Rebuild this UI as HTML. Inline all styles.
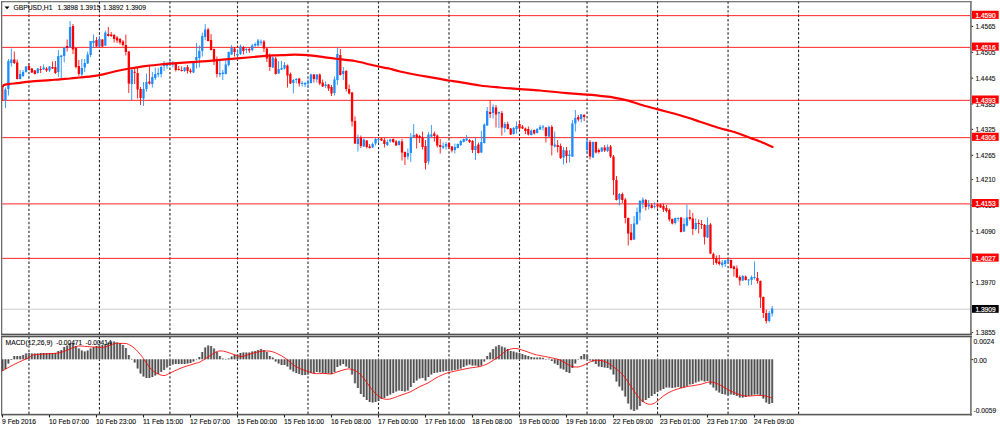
<!DOCTYPE html><html><head><meta charset="utf-8"><title>GBPUSD H1</title>
<style>html,body{margin:0;padding:0;background:#fff;}body{width:1000px;height:430px;overflow:hidden;}svg{display:block;}text{font-family:"Liberation Sans",sans-serif;}</style></head><body>
<svg width="1000" height="430" viewBox="0 0 1000 430">
<rect width="1000" height="430" fill="#fff"/>
<g stroke="#262626" stroke-width="1.1" stroke-dasharray="2.4 2.01" fill="none">
<path d="M28.94 1.36V414"/>
<path d="M99.44 1.36V414"/>
<path d="M169.94 1.36V414"/>
<path d="M237.50 1.36V414"/>
<path d="M308.00 1.36V414"/>
<path d="M378.50 1.36V414"/>
<path d="M449.00 1.36V414"/>
<path d="M519.50 1.36V414"/>
<path d="M587.06 1.36V414"/>
<path d="M657.56 1.36V414"/>
<path d="M728.06 1.36V414"/>
<path d="M798.56 1.36V414"/>
</g>
<rect x="2.2" y="15.05" width="968" height="1.1" fill="#ff0000" fill-opacity="0.78"/>
<rect x="2.2" y="46.85" width="968" height="1.1" fill="#ff0000" fill-opacity="0.78"/>
<rect x="2.2" y="99.80" width="968" height="1.1" fill="#ff0000" fill-opacity="0.78"/>
<rect x="2.2" y="137.05" width="968" height="1.1" fill="#ff0000" fill-opacity="0.78"/>
<rect x="2.2" y="203.10" width="968" height="1.5" fill="#ff0000" fill-opacity="0.58"/>
<rect x="2.2" y="257.85" width="968" height="1.1" fill="#ff0000" fill-opacity="0.78"/>
<rect x="2.2" y="308.7" width="968" height="1.1" fill="#d2d2d2"/>
<g>
<rect x="2.2" y="86.0" width="1.15" height="15.0" fill="#ff0000"/>
<rect x="5.02" y="87.5" width="0.84" height="20.5" fill="#1c8cff"/>
<rect x="4.29" y="89.5" width="2.3" height="10.5" fill="#1c8cff"/>
<rect x="7.96" y="59.0" width="0.84" height="36.5" fill="#1c8cff"/>
<rect x="7.22" y="61.0" width="2.3" height="28.0" fill="#1c8cff"/>
<rect x="10.89" y="48.5" width="0.84" height="18.0" fill="#1c8cff"/>
<rect x="10.16" y="59.5" width="2.3" height="3.5" fill="#1c8cff"/>
<rect x="13.83" y="51.5" width="0.84" height="12.5" fill="#ff0000"/>
<rect x="13.10" y="59.5" width="2.3" height="3.5" fill="#ff0000"/>
<rect x="16.77" y="59.5" width="0.84" height="20.0" fill="#ff0000"/>
<rect x="16.04" y="62.5" width="2.3" height="16.5" fill="#ff0000"/>
<rect x="19.70" y="70.0" width="0.84" height="9.5" fill="#1c8cff"/>
<rect x="18.98" y="74.0" width="2.3" height="5.0" fill="#1c8cff"/>
<rect x="22.64" y="70.0" width="0.84" height="7.0" fill="#1c8cff"/>
<rect x="21.91" y="72.0" width="2.3" height="4.0" fill="#1c8cff"/>
<rect x="25.58" y="66.0" width="0.84" height="6.5" fill="#1c8cff"/>
<rect x="24.85" y="66.5" width="2.3" height="5.5" fill="#1c8cff"/>
<rect x="28.52" y="63.5" width="0.84" height="7.0" fill="#ff0000"/>
<rect x="27.79" y="66.0" width="2.3" height="4.0" fill="#ff0000"/>
<rect x="31.45" y="68.0" width="0.84" height="5.0" fill="#ff0000"/>
<rect x="30.73" y="68.5" width="2.3" height="4.0" fill="#ff0000"/>
<rect x="34.39" y="70.0" width="0.84" height="4.5" fill="#ff0000"/>
<rect x="33.66" y="70.5" width="2.3" height="3.5" fill="#ff0000"/>
<rect x="37.33" y="68.0" width="0.84" height="5.5" fill="#1c8cff"/>
<rect x="36.60" y="68.5" width="2.3" height="4.5" fill="#1c8cff"/>
<rect x="40.27" y="66.0" width="0.84" height="7.0" fill="#ff0000"/>
<rect x="39.54" y="69.0" width="2.3" height="1.0" fill="#ff0000"/>
<rect x="43.20" y="64.5" width="0.84" height="5.5" fill="#1c8cff"/>
<rect x="42.48" y="67.5" width="2.3" height="2.0" fill="#1c8cff"/>
<rect x="46.14" y="67.0" width="0.84" height="5.0" fill="#ff0000"/>
<rect x="45.41" y="68.5" width="2.3" height="2.0" fill="#ff0000"/>
<rect x="49.08" y="66.0" width="0.84" height="6.0" fill="#1c8cff"/>
<rect x="48.35" y="66.5" width="2.3" height="4.0" fill="#1c8cff"/>
<rect x="52.02" y="61.5" width="0.84" height="7.5" fill="#ff0000"/>
<rect x="51.29" y="67.0" width="2.3" height="1.5" fill="#ff0000"/>
<rect x="54.95" y="61.0" width="0.84" height="13.0" fill="#ff0000"/>
<rect x="54.23" y="67.0" width="2.3" height="6.0" fill="#ff0000"/>
<rect x="57.89" y="50.0" width="0.84" height="27.0" fill="#1c8cff"/>
<rect x="57.16" y="56.0" width="2.3" height="16.0" fill="#1c8cff"/>
<rect x="60.83" y="55.0" width="0.84" height="23.0" fill="#1c8cff"/>
<rect x="60.10" y="55.5" width="2.3" height="1.5" fill="#1c8cff"/>
<rect x="63.77" y="47.5" width="0.84" height="15.0" fill="#1c8cff"/>
<rect x="63.04" y="47.5" width="2.3" height="8.5" fill="#1c8cff"/>
<rect x="66.70" y="39.5" width="0.84" height="12.0" fill="#ff0000"/>
<rect x="65.97" y="46.0" width="2.3" height="2.0" fill="#ff0000"/>
<rect x="69.64" y="21.0" width="0.84" height="27.0" fill="#1c8cff"/>
<rect x="68.91" y="27.0" width="2.3" height="20.5" fill="#1c8cff"/>
<rect x="72.58" y="24.0" width="0.84" height="30.0" fill="#ff0000"/>
<rect x="71.85" y="26.0" width="2.3" height="23.5" fill="#ff0000"/>
<rect x="75.52" y="48.0" width="0.84" height="20.5" fill="#ff0000"/>
<rect x="74.79" y="48.0" width="2.3" height="19.0" fill="#ff0000"/>
<rect x="78.45" y="60.0" width="0.84" height="16.0" fill="#ff0000"/>
<rect x="77.72" y="66.0" width="2.3" height="8.0" fill="#ff0000"/>
<rect x="81.39" y="59.0" width="0.84" height="17.5" fill="#1c8cff"/>
<rect x="80.66" y="68.0" width="2.3" height="6.5" fill="#1c8cff"/>
<rect x="84.33" y="59.0" width="0.84" height="13.0" fill="#1c8cff"/>
<rect x="83.60" y="63.0" width="2.3" height="4.5" fill="#1c8cff"/>
<rect x="87.27" y="51.5" width="0.84" height="12.5" fill="#1c8cff"/>
<rect x="86.54" y="54.5" width="2.3" height="9.0" fill="#1c8cff"/>
<rect x="90.20" y="41.0" width="0.84" height="16.0" fill="#1c8cff"/>
<rect x="89.47" y="41.0" width="2.3" height="14.0" fill="#1c8cff"/>
<rect x="93.14" y="34.5" width="0.84" height="13.5" fill="#1c8cff"/>
<rect x="92.41" y="41.0" width="2.3" height="2.0" fill="#1c8cff"/>
<rect x="96.08" y="37.0" width="0.84" height="10.0" fill="#ff0000"/>
<rect x="95.35" y="40.0" width="2.3" height="6.5" fill="#ff0000"/>
<rect x="99.02" y="36.0" width="0.84" height="11.0" fill="#1c8cff"/>
<rect x="98.29" y="39.0" width="2.3" height="7.5" fill="#1c8cff"/>
<rect x="101.95" y="39.0" width="0.84" height="8.0" fill="#ff0000"/>
<rect x="101.22" y="39.5" width="2.3" height="7.0" fill="#ff0000"/>
<rect x="104.89" y="30.5" width="0.84" height="15.5" fill="#1c8cff"/>
<rect x="104.16" y="32.5" width="2.3" height="13.0" fill="#1c8cff"/>
<rect x="107.83" y="27.0" width="0.84" height="9.5" fill="#ff0000"/>
<rect x="107.10" y="34.0" width="2.3" height="2.0" fill="#ff0000"/>
<rect x="110.77" y="32.0" width="0.84" height="5.0" fill="#ff0000"/>
<rect x="110.04" y="34.5" width="2.3" height="1.5" fill="#ff0000"/>
<rect x="113.70" y="34.0" width="0.84" height="8.5" fill="#ff0000"/>
<rect x="112.97" y="35.0" width="2.3" height="4.0" fill="#ff0000"/>
<rect x="116.64" y="36.0" width="0.84" height="7.0" fill="#ff0000"/>
<rect x="115.91" y="37.5" width="2.3" height="3.0" fill="#ff0000"/>
<rect x="119.58" y="38.0" width="0.84" height="6.5" fill="#ff0000"/>
<rect x="118.85" y="39.0" width="2.3" height="3.5" fill="#ff0000"/>
<rect x="122.52" y="40.0" width="0.84" height="6.5" fill="#ff0000"/>
<rect x="121.79" y="41.5" width="2.3" height="3.5" fill="#ff0000"/>
<rect x="125.45" y="34.5" width="0.84" height="21.0" fill="#ff0000"/>
<rect x="124.72" y="45.0" width="2.3" height="7.0" fill="#ff0000"/>
<rect x="128.39" y="51.0" width="0.84" height="42.0" fill="#ff0000"/>
<rect x="127.66" y="51.5" width="2.3" height="32.0" fill="#ff0000"/>
<rect x="131.33" y="69.0" width="0.84" height="31.0" fill="#1c8cff"/>
<rect x="130.60" y="70.0" width="2.3" height="14.0" fill="#1c8cff"/>
<rect x="134.27" y="68.0" width="0.84" height="16.0" fill="#ff0000"/>
<rect x="133.54" y="71.8" width="2.3" height="1.0" fill="#ff0000"/>
<rect x="137.21" y="68.0" width="0.84" height="30.5" fill="#ff0000"/>
<rect x="136.47" y="73.0" width="2.3" height="16.5" fill="#ff0000"/>
<rect x="140.14" y="87.0" width="0.84" height="18.0" fill="#ff0000"/>
<rect x="139.41" y="89.0" width="2.3" height="9.0" fill="#ff0000"/>
<rect x="143.08" y="82.0" width="0.84" height="24.0" fill="#1c8cff"/>
<rect x="142.35" y="89.0" width="2.3" height="9.5" fill="#1c8cff"/>
<rect x="146.02" y="73.5" width="0.84" height="18.0" fill="#1c8cff"/>
<rect x="145.29" y="82.0" width="2.3" height="7.0" fill="#1c8cff"/>
<rect x="148.96" y="65.0" width="0.84" height="19.5" fill="#ff0000"/>
<rect x="148.22" y="81.5" width="2.3" height="2.0" fill="#ff0000"/>
<rect x="151.89" y="72.0" width="0.84" height="15.5" fill="#1c8cff"/>
<rect x="151.16" y="77.0" width="2.3" height="7.0" fill="#1c8cff"/>
<rect x="154.83" y="67.5" width="0.84" height="12.5" fill="#1c8cff"/>
<rect x="154.10" y="74.0" width="2.3" height="4.0" fill="#1c8cff"/>
<rect x="157.77" y="68.0" width="0.84" height="9.0" fill="#1c8cff"/>
<rect x="157.04" y="73.0" width="2.3" height="1.5" fill="#1c8cff"/>
<rect x="160.71" y="66.0" width="0.84" height="11.5" fill="#1c8cff"/>
<rect x="159.97" y="67.0" width="2.3" height="7.0" fill="#1c8cff"/>
<rect x="163.64" y="61.0" width="0.84" height="10.0" fill="#1c8cff"/>
<rect x="162.91" y="65.0" width="2.3" height="1.0" fill="#1c8cff"/>
<rect x="166.58" y="62.5" width="0.84" height="6.5" fill="#1c8cff"/>
<rect x="165.85" y="64.5" width="2.3" height="1.5" fill="#1c8cff"/>
<rect x="169.52" y="59.0" width="0.84" height="7.0" fill="#1c8cff"/>
<rect x="168.79" y="62.0" width="2.3" height="2.5" fill="#1c8cff"/>
<rect x="172.46" y="61.0" width="0.84" height="6.5" fill="#1c8cff"/>
<rect x="171.72" y="63.5" width="2.3" height="1.0" fill="#1c8cff"/>
<rect x="175.39" y="63.5" width="0.84" height="8.0" fill="#ff0000"/>
<rect x="174.66" y="64.0" width="2.3" height="6.0" fill="#ff0000"/>
<rect x="178.33" y="66.0" width="0.84" height="4.5" fill="#ff0000"/>
<rect x="177.60" y="69.0" width="2.3" height="1.0" fill="#ff0000"/>
<rect x="181.27" y="66.5" width="0.84" height="5.0" fill="#ff0000"/>
<rect x="180.54" y="70.0" width="2.3" height="1.0" fill="#ff0000"/>
<rect x="184.21" y="67.0" width="0.84" height="5.0" fill="#1c8cff"/>
<rect x="183.47" y="67.5" width="2.3" height="3.5" fill="#1c8cff"/>
<rect x="187.14" y="65.0" width="0.84" height="8.5" fill="#ff0000"/>
<rect x="186.41" y="67.0" width="2.3" height="4.0" fill="#ff0000"/>
<rect x="190.08" y="68.5" width="0.84" height="5.0" fill="#ff0000"/>
<rect x="189.35" y="70.5" width="2.3" height="1.5" fill="#ff0000"/>
<rect x="193.02" y="61.5" width="0.84" height="11.5" fill="#1c8cff"/>
<rect x="192.29" y="62.0" width="2.3" height="10.5" fill="#1c8cff"/>
<rect x="195.96" y="43.0" width="0.84" height="25.5" fill="#1c8cff"/>
<rect x="195.22" y="57.0" width="2.3" height="3.0" fill="#1c8cff"/>
<rect x="198.89" y="45.5" width="0.84" height="22.0" fill="#1c8cff"/>
<rect x="198.16" y="51.0" width="2.3" height="7.0" fill="#1c8cff"/>
<rect x="201.83" y="32.5" width="0.84" height="24.0" fill="#1c8cff"/>
<rect x="201.10" y="36.0" width="2.3" height="15.0" fill="#1c8cff"/>
<rect x="204.77" y="24.0" width="0.84" height="16.0" fill="#1c8cff"/>
<rect x="204.04" y="29.5" width="2.3" height="7.5" fill="#1c8cff"/>
<rect x="207.71" y="28.0" width="0.84" height="13.5" fill="#ff0000"/>
<rect x="206.97" y="29.5" width="2.3" height="11.5" fill="#ff0000"/>
<rect x="210.64" y="34.0" width="0.84" height="16.5" fill="#ff0000"/>
<rect x="209.91" y="40.0" width="2.3" height="10.0" fill="#ff0000"/>
<rect x="213.58" y="48.5" width="0.84" height="16.5" fill="#ff0000"/>
<rect x="212.85" y="49.0" width="2.3" height="12.5" fill="#ff0000"/>
<rect x="216.52" y="56.5" width="0.84" height="21.0" fill="#ff0000"/>
<rect x="215.79" y="61.0" width="2.3" height="13.0" fill="#ff0000"/>
<rect x="219.46" y="61.0" width="0.84" height="16.0" fill="#1c8cff"/>
<rect x="218.72" y="73.0" width="2.3" height="1.5" fill="#1c8cff"/>
<rect x="222.39" y="70.0" width="0.84" height="10.0" fill="#1c8cff"/>
<rect x="221.66" y="72.5" width="2.3" height="1.5" fill="#1c8cff"/>
<rect x="225.33" y="60.5" width="0.84" height="14.0" fill="#1c8cff"/>
<rect x="224.60" y="64.5" width="2.3" height="9.5" fill="#1c8cff"/>
<rect x="228.27" y="51.5" width="0.84" height="15.0" fill="#1c8cff"/>
<rect x="227.54" y="52.0" width="2.3" height="13.0" fill="#1c8cff"/>
<rect x="231.21" y="45.0" width="0.84" height="10.0" fill="#1c8cff"/>
<rect x="230.47" y="48.0" width="2.3" height="6.5" fill="#1c8cff"/>
<rect x="234.14" y="47.0" width="0.84" height="9.5" fill="#ff0000"/>
<rect x="233.41" y="48.5" width="2.3" height="3.5" fill="#ff0000"/>
<rect x="237.08" y="49.5" width="0.84" height="10.5" fill="#1c8cff"/>
<rect x="236.35" y="54.0" width="2.3" height="1.5" fill="#1c8cff"/>
<rect x="240.02" y="44.5" width="0.84" height="10.5" fill="#1c8cff"/>
<rect x="239.29" y="46.5" width="2.3" height="7.5" fill="#1c8cff"/>
<rect x="242.96" y="46.0" width="0.84" height="8.5" fill="#ff0000"/>
<rect x="242.22" y="47.0" width="2.3" height="4.0" fill="#ff0000"/>
<rect x="245.89" y="48.0" width="0.84" height="5.0" fill="#1c8cff"/>
<rect x="245.16" y="49.0" width="2.3" height="1.0" fill="#1c8cff"/>
<rect x="248.83" y="47.5" width="0.84" height="5.5" fill="#ff0000"/>
<rect x="248.10" y="49.0" width="2.3" height="1.5" fill="#ff0000"/>
<rect x="251.77" y="44.0" width="0.84" height="7.5" fill="#1c8cff"/>
<rect x="251.04" y="45.5" width="2.3" height="4.5" fill="#1c8cff"/>
<rect x="254.71" y="42.5" width="0.84" height="4.5" fill="#1c8cff"/>
<rect x="253.97" y="44.0" width="2.3" height="1.5" fill="#1c8cff"/>
<rect x="257.64" y="39.0" width="0.84" height="7.5" fill="#1c8cff"/>
<rect x="256.91" y="40.5" width="2.3" height="5.0" fill="#1c8cff"/>
<rect x="260.58" y="39.5" width="0.84" height="6.0" fill="#1c8cff"/>
<rect x="259.85" y="41.6" width="2.3" height="1.2" fill="#1c8cff"/>
<rect x="263.52" y="40.0" width="0.84" height="12.0" fill="#ff0000"/>
<rect x="262.79" y="41.5" width="2.3" height="7.0" fill="#ff0000"/>
<rect x="266.45" y="48.0" width="0.84" height="14.0" fill="#ff0000"/>
<rect x="265.73" y="48.5" width="2.3" height="10.0" fill="#ff0000"/>
<rect x="269.39" y="53.5" width="0.84" height="17.5" fill="#ff0000"/>
<rect x="268.66" y="55.0" width="2.3" height="12.0" fill="#ff0000"/>
<rect x="272.33" y="56.5" width="0.84" height="11.5" fill="#1c8cff"/>
<rect x="271.60" y="57.5" width="2.3" height="10.0" fill="#1c8cff"/>
<rect x="275.27" y="57.0" width="0.84" height="17.5" fill="#ff0000"/>
<rect x="274.54" y="58.5" width="2.3" height="15.5" fill="#ff0000"/>
<rect x="278.20" y="61.0" width="0.84" height="13.0" fill="#1c8cff"/>
<rect x="277.48" y="69.0" width="2.3" height="4.5" fill="#1c8cff"/>
<rect x="281.14" y="61.0" width="0.84" height="9.0" fill="#1c8cff"/>
<rect x="280.41" y="68.0" width="2.3" height="1.5" fill="#1c8cff"/>
<rect x="284.08" y="62.0" width="0.84" height="7.5" fill="#1c8cff"/>
<rect x="283.35" y="65.0" width="2.3" height="3.5" fill="#1c8cff"/>
<rect x="287.02" y="64.5" width="0.84" height="23.0" fill="#ff0000"/>
<rect x="286.29" y="65.5" width="2.3" height="10.0" fill="#ff0000"/>
<rect x="289.95" y="72.5" width="0.84" height="11.5" fill="#ff0000"/>
<rect x="289.23" y="74.0" width="2.3" height="9.5" fill="#ff0000"/>
<rect x="292.89" y="79.0" width="0.84" height="14.5" fill="#1c8cff"/>
<rect x="292.16" y="80.0" width="2.3" height="3.0" fill="#1c8cff"/>
<rect x="295.83" y="78.0" width="0.84" height="5.5" fill="#1c8cff"/>
<rect x="295.10" y="79.0" width="2.3" height="1.0" fill="#1c8cff"/>
<rect x="298.77" y="78.0" width="0.84" height="8.5" fill="#ff0000"/>
<rect x="298.04" y="78.5" width="2.3" height="5.0" fill="#ff0000"/>
<rect x="301.70" y="81.0" width="0.84" height="5.5" fill="#1c8cff"/>
<rect x="300.98" y="83.0" width="2.3" height="1.0" fill="#1c8cff"/>
<rect x="304.64" y="82.0" width="0.84" height="5.0" fill="#1c8cff"/>
<rect x="303.91" y="83.0" width="2.3" height="1.5" fill="#1c8cff"/>
<rect x="307.58" y="79.5" width="0.84" height="8.5" fill="#1c8cff"/>
<rect x="306.85" y="81.5" width="2.3" height="2.0" fill="#1c8cff"/>
<rect x="310.52" y="73.5" width="0.84" height="10.0" fill="#1c8cff"/>
<rect x="309.79" y="74.5" width="2.3" height="8.5" fill="#1c8cff"/>
<rect x="313.45" y="74.0" width="0.84" height="8.5" fill="#ff0000"/>
<rect x="312.73" y="74.5" width="2.3" height="4.5" fill="#ff0000"/>
<rect x="316.39" y="74.0" width="0.84" height="8.5" fill="#1c8cff"/>
<rect x="315.66" y="74.5" width="2.3" height="5.0" fill="#1c8cff"/>
<rect x="319.33" y="73.5" width="0.84" height="11.5" fill="#ff0000"/>
<rect x="318.60" y="74.5" width="2.3" height="9.0" fill="#ff0000"/>
<rect x="322.27" y="79.5" width="0.84" height="7.5" fill="#ff0000"/>
<rect x="321.54" y="82.5" width="2.3" height="4.0" fill="#ff0000"/>
<rect x="325.20" y="81.5" width="0.84" height="6.5" fill="#1c8cff"/>
<rect x="324.48" y="84.5" width="2.3" height="1.5" fill="#1c8cff"/>
<rect x="328.14" y="84.0" width="0.84" height="7.0" fill="#ff0000"/>
<rect x="327.41" y="84.5" width="2.3" height="4.0" fill="#ff0000"/>
<rect x="331.08" y="85.0" width="0.84" height="11.0" fill="#ff0000"/>
<rect x="330.35" y="87.0" width="2.3" height="6.5" fill="#ff0000"/>
<rect x="334.02" y="76.5" width="0.84" height="19.0" fill="#1c8cff"/>
<rect x="333.29" y="79.5" width="2.3" height="13.5" fill="#1c8cff"/>
<rect x="336.95" y="47.5" width="0.84" height="37.5" fill="#1c8cff"/>
<rect x="336.23" y="54.0" width="2.3" height="26.0" fill="#1c8cff"/>
<rect x="339.89" y="49.0" width="0.84" height="26.5" fill="#ff0000"/>
<rect x="339.16" y="55.0" width="2.3" height="20.0" fill="#ff0000"/>
<rect x="342.83" y="67.0" width="0.84" height="13.0" fill="#1c8cff"/>
<rect x="342.10" y="71.0" width="2.3" height="3.0" fill="#1c8cff"/>
<rect x="345.77" y="70.0" width="0.84" height="21.5" fill="#ff0000"/>
<rect x="345.04" y="71.0" width="2.3" height="18.0" fill="#ff0000"/>
<rect x="348.70" y="84.5" width="0.84" height="10.0" fill="#ff0000"/>
<rect x="347.98" y="89.0" width="2.3" height="4.5" fill="#ff0000"/>
<rect x="351.64" y="92.0" width="0.84" height="34.5" fill="#ff0000"/>
<rect x="350.91" y="92.5" width="2.3" height="29.0" fill="#ff0000"/>
<rect x="354.58" y="116.5" width="0.84" height="27.5" fill="#ff0000"/>
<rect x="353.85" y="121.0" width="2.3" height="22.5" fill="#ff0000"/>
<rect x="357.52" y="134.5" width="0.84" height="17.0" fill="#1c8cff"/>
<rect x="356.79" y="138.5" width="2.3" height="5.5" fill="#1c8cff"/>
<rect x="360.45" y="135.5" width="0.84" height="12.5" fill="#ff0000"/>
<rect x="359.73" y="138.0" width="2.3" height="8.0" fill="#ff0000"/>
<rect x="363.39" y="138.5" width="0.84" height="8.5" fill="#1c8cff"/>
<rect x="362.66" y="139.5" width="2.3" height="7.0" fill="#1c8cff"/>
<rect x="366.33" y="140.0" width="0.84" height="8.5" fill="#ff0000"/>
<rect x="365.60" y="140.5" width="2.3" height="6.5" fill="#ff0000"/>
<rect x="369.27" y="144.0" width="0.84" height="4.5" fill="#ff0000"/>
<rect x="368.54" y="146.5" width="2.3" height="1.5" fill="#ff0000"/>
<rect x="372.20" y="142.5" width="0.84" height="5.5" fill="#1c8cff"/>
<rect x="371.48" y="144.0" width="2.3" height="3.5" fill="#1c8cff"/>
<rect x="375.14" y="138.0" width="0.84" height="7.5" fill="#1c8cff"/>
<rect x="374.41" y="139.0" width="2.3" height="4.5" fill="#1c8cff"/>
<rect x="378.08" y="138.5" width="0.84" height="4.5" fill="#1c8cff"/>
<rect x="377.35" y="139.0" width="2.3" height="1.0" fill="#1c8cff"/>
<rect x="381.02" y="138.0" width="0.84" height="3.0" fill="#ff0000"/>
<rect x="380.29" y="138.5" width="2.3" height="2.0" fill="#ff0000"/>
<rect x="383.95" y="138.0" width="0.84" height="9.5" fill="#ff0000"/>
<rect x="383.23" y="140.0" width="2.3" height="4.0" fill="#ff0000"/>
<rect x="386.89" y="139.5" width="0.84" height="6.5" fill="#1c8cff"/>
<rect x="386.16" y="142.0" width="2.3" height="3.0" fill="#1c8cff"/>
<rect x="389.83" y="139.0" width="0.84" height="3.5" fill="#1c8cff"/>
<rect x="389.10" y="139.5" width="2.3" height="2.0" fill="#1c8cff"/>
<rect x="392.77" y="138.5" width="0.84" height="4.5" fill="#ff0000"/>
<rect x="392.04" y="139.0" width="2.3" height="3.0" fill="#ff0000"/>
<rect x="395.70" y="140.0" width="0.84" height="6.0" fill="#ff0000"/>
<rect x="394.98" y="141.5" width="2.3" height="4.0" fill="#ff0000"/>
<rect x="398.64" y="140.5" width="0.84" height="5.0" fill="#1c8cff"/>
<rect x="397.91" y="141.0" width="2.3" height="4.0" fill="#1c8cff"/>
<rect x="401.58" y="139.0" width="0.84" height="21.5" fill="#ff0000"/>
<rect x="400.85" y="141.5" width="2.3" height="11.0" fill="#ff0000"/>
<rect x="404.52" y="151.5" width="0.84" height="13.5" fill="#ff0000"/>
<rect x="403.79" y="152.0" width="2.3" height="5.0" fill="#ff0000"/>
<rect x="407.45" y="148.5" width="0.84" height="11.0" fill="#1c8cff"/>
<rect x="406.73" y="153.0" width="2.3" height="3.5" fill="#1c8cff"/>
<rect x="410.39" y="133.0" width="0.84" height="29.0" fill="#1c8cff"/>
<rect x="409.66" y="137.0" width="2.3" height="16.0" fill="#1c8cff"/>
<rect x="413.33" y="124.0" width="0.84" height="13.5" fill="#1c8cff"/>
<rect x="412.60" y="135.0" width="2.3" height="2.0" fill="#1c8cff"/>
<rect x="416.27" y="133.5" width="0.84" height="15.0" fill="#ff0000"/>
<rect x="415.54" y="134.5" width="2.3" height="3.0" fill="#ff0000"/>
<rect x="419.20" y="135.0" width="0.84" height="8.0" fill="#ff0000"/>
<rect x="418.48" y="136.0" width="2.3" height="2.0" fill="#ff0000"/>
<rect x="422.14" y="131.5" width="0.84" height="18.0" fill="#ff0000"/>
<rect x="421.41" y="137.5" width="2.3" height="9.5" fill="#ff0000"/>
<rect x="425.08" y="140.0" width="0.84" height="29.5" fill="#ff0000"/>
<rect x="424.35" y="146.0" width="2.3" height="17.0" fill="#ff0000"/>
<rect x="428.02" y="132.0" width="0.84" height="32.5" fill="#1c8cff"/>
<rect x="427.29" y="134.5" width="2.3" height="27.0" fill="#1c8cff"/>
<rect x="430.95" y="125.0" width="0.84" height="12.5" fill="#1c8cff"/>
<rect x="430.23" y="134.5" width="2.3" height="2.0" fill="#1c8cff"/>
<rect x="433.89" y="131.5" width="0.84" height="10.0" fill="#ff0000"/>
<rect x="433.16" y="133.5" width="2.3" height="2.5" fill="#ff0000"/>
<rect x="436.83" y="134.5" width="0.84" height="13.0" fill="#ff0000"/>
<rect x="436.10" y="135.5" width="2.3" height="10.0" fill="#ff0000"/>
<rect x="439.77" y="139.0" width="0.84" height="14.5" fill="#ff0000"/>
<rect x="439.04" y="145.0" width="2.3" height="2.0" fill="#ff0000"/>
<rect x="442.70" y="142.5" width="0.84" height="6.5" fill="#1c8cff"/>
<rect x="441.98" y="146.0" width="2.3" height="1.5" fill="#1c8cff"/>
<rect x="445.64" y="142.0" width="0.84" height="7.5" fill="#1c8cff"/>
<rect x="444.91" y="144.0" width="2.3" height="2.5" fill="#1c8cff"/>
<rect x="448.58" y="142.5" width="0.84" height="6.5" fill="#ff0000"/>
<rect x="447.85" y="143.0" width="2.3" height="4.0" fill="#ff0000"/>
<rect x="451.52" y="146.0" width="0.84" height="6.5" fill="#ff0000"/>
<rect x="450.79" y="146.5" width="2.3" height="4.0" fill="#ff0000"/>
<rect x="454.45" y="143.5" width="0.84" height="10.0" fill="#1c8cff"/>
<rect x="453.73" y="147.0" width="2.3" height="3.0" fill="#1c8cff"/>
<rect x="457.39" y="143.5" width="0.84" height="5.0" fill="#1c8cff"/>
<rect x="456.66" y="144.0" width="2.3" height="4.0" fill="#1c8cff"/>
<rect x="460.33" y="140.0" width="0.84" height="6.0" fill="#1c8cff"/>
<rect x="459.60" y="141.0" width="2.3" height="4.0" fill="#1c8cff"/>
<rect x="463.27" y="138.5" width="0.84" height="4.0" fill="#1c8cff"/>
<rect x="462.54" y="139.0" width="2.3" height="3.0" fill="#1c8cff"/>
<rect x="466.20" y="135.0" width="0.84" height="6.0" fill="#1c8cff"/>
<rect x="465.48" y="138.5" width="2.3" height="2.0" fill="#1c8cff"/>
<rect x="469.14" y="139.0" width="0.84" height="4.0" fill="#ff0000"/>
<rect x="468.41" y="140.0" width="2.3" height="2.0" fill="#ff0000"/>
<rect x="472.08" y="140.0" width="0.84" height="13.0" fill="#ff0000"/>
<rect x="471.35" y="141.0" width="2.3" height="9.0" fill="#ff0000"/>
<rect x="475.02" y="138.0" width="0.84" height="22.0" fill="#1c8cff"/>
<rect x="474.29" y="146.0" width="2.3" height="4.0" fill="#1c8cff"/>
<rect x="477.95" y="142.5" width="0.84" height="11.0" fill="#ff0000"/>
<rect x="477.23" y="144.5" width="2.3" height="8.5" fill="#ff0000"/>
<rect x="480.89" y="131.0" width="0.84" height="22.0" fill="#1c8cff"/>
<rect x="480.16" y="142.0" width="2.3" height="10.5" fill="#1c8cff"/>
<rect x="483.83" y="123.5" width="0.84" height="20.0" fill="#1c8cff"/>
<rect x="483.10" y="124.5" width="2.3" height="18.5" fill="#1c8cff"/>
<rect x="486.77" y="107.0" width="0.84" height="19.0" fill="#1c8cff"/>
<rect x="486.04" y="111.0" width="2.3" height="14.5" fill="#1c8cff"/>
<rect x="489.70" y="100.5" width="0.84" height="17.5" fill="#ff0000"/>
<rect x="488.98" y="112.0" width="2.3" height="2.0" fill="#ff0000"/>
<rect x="492.64" y="104.5" width="0.84" height="14.0" fill="#1c8cff"/>
<rect x="491.91" y="107.0" width="2.3" height="6.0" fill="#1c8cff"/>
<rect x="495.58" y="105.0" width="0.84" height="22.5" fill="#ff0000"/>
<rect x="494.85" y="107.5" width="2.3" height="7.0" fill="#ff0000"/>
<rect x="498.52" y="111.5" width="0.84" height="16.5" fill="#1c8cff"/>
<rect x="497.79" y="112.0" width="2.3" height="1.5" fill="#1c8cff"/>
<rect x="501.45" y="111.0" width="0.84" height="24.5" fill="#ff0000"/>
<rect x="500.73" y="113.0" width="2.3" height="14.5" fill="#ff0000"/>
<rect x="504.39" y="122.0" width="0.84" height="10.5" fill="#1c8cff"/>
<rect x="503.66" y="124.0" width="2.3" height="4.0" fill="#1c8cff"/>
<rect x="507.33" y="121.5" width="0.84" height="8.0" fill="#ff0000"/>
<rect x="506.60" y="124.0" width="2.3" height="5.0" fill="#ff0000"/>
<rect x="510.27" y="128.0" width="0.84" height="7.0" fill="#ff0000"/>
<rect x="509.54" y="128.5" width="2.3" height="6.0" fill="#ff0000"/>
<rect x="513.21" y="127.0" width="0.84" height="7.5" fill="#1c8cff"/>
<rect x="512.48" y="128.0" width="2.3" height="6.0" fill="#1c8cff"/>
<rect x="516.14" y="121.5" width="0.84" height="12.0" fill="#1c8cff"/>
<rect x="515.41" y="126.0" width="2.3" height="3.0" fill="#1c8cff"/>
<rect x="519.08" y="120.5" width="0.84" height="9.0" fill="#ff0000"/>
<rect x="518.35" y="124.0" width="2.3" height="4.5" fill="#ff0000"/>
<rect x="522.02" y="125.0" width="0.84" height="4.0" fill="#ff0000"/>
<rect x="521.29" y="126.5" width="2.3" height="2.0" fill="#ff0000"/>
<rect x="524.96" y="127.5" width="0.84" height="6.5" fill="#ff0000"/>
<rect x="524.23" y="128.5" width="2.3" height="2.5" fill="#ff0000"/>
<rect x="527.89" y="126.5" width="0.84" height="9.0" fill="#ff0000"/>
<rect x="527.16" y="129.0" width="2.3" height="5.5" fill="#ff0000"/>
<rect x="530.83" y="129.5" width="0.84" height="6.0" fill="#1c8cff"/>
<rect x="530.10" y="130.5" width="2.3" height="4.5" fill="#1c8cff"/>
<rect x="533.77" y="129.5" width="0.84" height="5.0" fill="#ff0000"/>
<rect x="533.04" y="130.0" width="2.3" height="3.5" fill="#ff0000"/>
<rect x="536.71" y="128.0" width="0.84" height="5.5" fill="#1c8cff"/>
<rect x="535.98" y="129.0" width="2.3" height="4.0" fill="#1c8cff"/>
<rect x="539.64" y="125.0" width="0.84" height="5.0" fill="#1c8cff"/>
<rect x="538.91" y="127.0" width="2.3" height="2.5" fill="#1c8cff"/>
<rect x="542.58" y="125.0" width="0.84" height="5.5" fill="#1c8cff"/>
<rect x="541.85" y="126.5" width="2.3" height="1.0" fill="#1c8cff"/>
<rect x="545.52" y="127.0" width="0.84" height="15.5" fill="#ff0000"/>
<rect x="544.79" y="127.5" width="2.3" height="8.5" fill="#ff0000"/>
<rect x="548.46" y="125.5" width="0.84" height="11.5" fill="#1c8cff"/>
<rect x="547.73" y="127.0" width="2.3" height="9.5" fill="#1c8cff"/>
<rect x="551.39" y="125.0" width="0.84" height="30.5" fill="#ff0000"/>
<rect x="550.66" y="127.0" width="2.3" height="18.5" fill="#ff0000"/>
<rect x="554.33" y="131.5" width="0.84" height="16.0" fill="#1c8cff"/>
<rect x="553.60" y="144.5" width="2.3" height="2.0" fill="#1c8cff"/>
<rect x="557.27" y="140.0" width="0.84" height="12.5" fill="#ff0000"/>
<rect x="556.54" y="145.0" width="2.3" height="2.0" fill="#ff0000"/>
<rect x="560.21" y="143.5" width="0.84" height="15.5" fill="#ff0000"/>
<rect x="559.48" y="146.0" width="2.3" height="12.0" fill="#ff0000"/>
<rect x="563.14" y="147.0" width="0.84" height="17.5" fill="#1c8cff"/>
<rect x="562.41" y="150.0" width="2.3" height="7.5" fill="#1c8cff"/>
<rect x="566.08" y="147.0" width="0.84" height="16.0" fill="#ff0000"/>
<rect x="565.35" y="150.5" width="2.3" height="5.5" fill="#ff0000"/>
<rect x="569.02" y="150.0" width="0.84" height="12.5" fill="#1c8cff"/>
<rect x="568.29" y="154.5" width="2.3" height="1.5" fill="#1c8cff"/>
<rect x="571.96" y="120.0" width="0.84" height="37.0" fill="#1c8cff"/>
<rect x="571.23" y="123.5" width="2.3" height="33.0" fill="#1c8cff"/>
<rect x="574.89" y="110.0" width="0.84" height="21.5" fill="#1c8cff"/>
<rect x="574.16" y="118.0" width="2.3" height="5.5" fill="#1c8cff"/>
<rect x="577.83" y="115.0" width="0.84" height="6.5" fill="#ff0000"/>
<rect x="577.10" y="117.0" width="2.3" height="2.5" fill="#ff0000"/>
<rect x="580.77" y="114.0" width="0.84" height="8.5" fill="#1c8cff"/>
<rect x="580.04" y="114.5" width="2.3" height="4.5" fill="#1c8cff"/>
<rect x="583.71" y="114.0" width="0.84" height="7.0" fill="#ff0000"/>
<rect x="582.98" y="115.0" width="2.3" height="2.0" fill="#ff0000"/>
<rect x="586.64" y="138.5" width="0.84" height="15.0" fill="#1c8cff"/>
<rect x="585.91" y="141.5" width="2.3" height="8.5" fill="#1c8cff"/>
<rect x="589.58" y="140.0" width="0.84" height="19.5" fill="#ff0000"/>
<rect x="588.85" y="142.0" width="2.3" height="14.5" fill="#ff0000"/>
<rect x="592.52" y="141.5" width="0.84" height="16.5" fill="#1c8cff"/>
<rect x="591.79" y="142.0" width="2.3" height="15.5" fill="#1c8cff"/>
<rect x="595.46" y="141.5" width="0.84" height="12.0" fill="#ff0000"/>
<rect x="594.73" y="142.0" width="2.3" height="10.5" fill="#ff0000"/>
<rect x="598.39" y="148.5" width="0.84" height="5.0" fill="#ff0000"/>
<rect x="597.66" y="150.0" width="2.3" height="2.0" fill="#ff0000"/>
<rect x="601.33" y="147.0" width="0.84" height="5.0" fill="#1c8cff"/>
<rect x="600.60" y="147.5" width="2.3" height="4.0" fill="#1c8cff"/>
<rect x="604.27" y="145.0" width="0.84" height="7.0" fill="#ff0000"/>
<rect x="603.54" y="147.5" width="2.3" height="3.0" fill="#ff0000"/>
<rect x="607.21" y="144.5" width="0.84" height="7.5" fill="#1c8cff"/>
<rect x="606.48" y="147.0" width="2.3" height="4.0" fill="#1c8cff"/>
<rect x="610.14" y="145.0" width="0.84" height="13.0" fill="#ff0000"/>
<rect x="609.41" y="146.5" width="2.3" height="10.0" fill="#ff0000"/>
<rect x="613.08" y="155.0" width="0.84" height="40.0" fill="#ff0000"/>
<rect x="612.35" y="156.5" width="2.3" height="23.5" fill="#ff0000"/>
<rect x="616.02" y="176.0" width="0.84" height="24.5" fill="#ff0000"/>
<rect x="615.29" y="180.0" width="2.3" height="20.0" fill="#ff0000"/>
<rect x="618.96" y="193.0" width="0.84" height="12.5" fill="#1c8cff"/>
<rect x="618.23" y="194.0" width="2.3" height="5.5" fill="#1c8cff"/>
<rect x="621.89" y="192.5" width="0.84" height="10.5" fill="#ff0000"/>
<rect x="621.16" y="194.0" width="2.3" height="6.0" fill="#ff0000"/>
<rect x="624.83" y="198.0" width="0.84" height="25.5" fill="#ff0000"/>
<rect x="624.10" y="199.5" width="2.3" height="18.5" fill="#ff0000"/>
<rect x="627.77" y="217.5" width="0.84" height="28.0" fill="#ff0000"/>
<rect x="627.04" y="218.0" width="2.3" height="15.5" fill="#ff0000"/>
<rect x="630.71" y="224.0" width="0.84" height="16.5" fill="#ff0000"/>
<rect x="629.98" y="232.5" width="2.3" height="7.5" fill="#ff0000"/>
<rect x="633.64" y="216.0" width="0.84" height="24.0" fill="#1c8cff"/>
<rect x="632.91" y="223.5" width="2.3" height="16.0" fill="#1c8cff"/>
<rect x="636.58" y="207.5" width="0.84" height="17.5" fill="#1c8cff"/>
<rect x="635.85" y="212.0" width="2.3" height="12.0" fill="#1c8cff"/>
<rect x="639.52" y="200.0" width="0.84" height="20.5" fill="#1c8cff"/>
<rect x="638.79" y="201.0" width="2.3" height="11.5" fill="#1c8cff"/>
<rect x="642.46" y="197.5" width="0.84" height="11.0" fill="#1c8cff"/>
<rect x="641.73" y="199.5" width="2.3" height="3.5" fill="#1c8cff"/>
<rect x="645.39" y="199.0" width="0.84" height="11.5" fill="#ff0000"/>
<rect x="644.66" y="200.0" width="2.3" height="7.0" fill="#ff0000"/>
<rect x="648.33" y="200.0" width="0.84" height="9.5" fill="#1c8cff"/>
<rect x="647.60" y="204.5" width="2.3" height="2.0" fill="#1c8cff"/>
<rect x="651.27" y="203.5" width="0.84" height="5.0" fill="#ff0000"/>
<rect x="650.54" y="205.0" width="2.3" height="3.0" fill="#ff0000"/>
<rect x="654.21" y="202.5" width="0.84" height="6.0" fill="#1c8cff"/>
<rect x="653.48" y="206.0" width="2.3" height="1.0" fill="#1c8cff"/>
<rect x="657.14" y="203.5" width="0.84" height="5.5" fill="#ff0000"/>
<rect x="656.41" y="204.5" width="2.3" height="2.0" fill="#ff0000"/>
<rect x="660.08" y="203.5" width="0.84" height="4.5" fill="#ff0000"/>
<rect x="659.35" y="204.5" width="2.3" height="3.0" fill="#ff0000"/>
<rect x="663.02" y="203.5" width="0.84" height="8.5" fill="#ff0000"/>
<rect x="662.29" y="206.0" width="2.3" height="3.5" fill="#ff0000"/>
<rect x="665.96" y="205.0" width="0.84" height="7.5" fill="#ff0000"/>
<rect x="665.23" y="208.0" width="2.3" height="3.0" fill="#ff0000"/>
<rect x="668.89" y="208.5" width="0.84" height="13.0" fill="#ff0000"/>
<rect x="668.16" y="210.0" width="2.3" height="9.5" fill="#ff0000"/>
<rect x="671.83" y="218.5" width="0.84" height="6.0" fill="#ff0000"/>
<rect x="671.10" y="219.0" width="2.3" height="4.5" fill="#ff0000"/>
<rect x="674.77" y="217.5" width="0.84" height="7.0" fill="#1c8cff"/>
<rect x="674.04" y="218.0" width="2.3" height="5.0" fill="#1c8cff"/>
<rect x="677.71" y="217.5" width="0.84" height="4.0" fill="#1c8cff"/>
<rect x="676.98" y="218.0" width="2.3" height="1.0" fill="#1c8cff"/>
<rect x="680.64" y="217.0" width="0.84" height="15.5" fill="#ff0000"/>
<rect x="679.91" y="217.5" width="2.3" height="14.5" fill="#ff0000"/>
<rect x="683.58" y="218.0" width="0.84" height="14.0" fill="#1c8cff"/>
<rect x="682.85" y="224.0" width="2.3" height="7.5" fill="#1c8cff"/>
<rect x="686.52" y="204.5" width="0.84" height="22.0" fill="#1c8cff"/>
<rect x="685.79" y="217.5" width="2.3" height="8.0" fill="#1c8cff"/>
<rect x="689.46" y="209.5" width="0.84" height="11.0" fill="#ff0000"/>
<rect x="688.73" y="217.0" width="2.3" height="2.0" fill="#ff0000"/>
<rect x="692.39" y="213.0" width="0.84" height="22.0" fill="#ff0000"/>
<rect x="691.66" y="218.5" width="2.3" height="10.5" fill="#ff0000"/>
<rect x="695.33" y="218.5" width="0.84" height="12.0" fill="#1c8cff"/>
<rect x="694.60" y="223.0" width="2.3" height="6.0" fill="#1c8cff"/>
<rect x="698.27" y="219.5" width="0.84" height="14.0" fill="#ff0000"/>
<rect x="697.54" y="223.0" width="2.3" height="1.0" fill="#ff0000"/>
<rect x="701.21" y="220.0" width="0.84" height="9.0" fill="#ff0000"/>
<rect x="700.48" y="224.0" width="2.3" height="1.0" fill="#ff0000"/>
<rect x="704.14" y="224.0" width="0.84" height="20.5" fill="#ff0000"/>
<rect x="703.41" y="225.0" width="2.3" height="12.0" fill="#ff0000"/>
<rect x="707.08" y="217.5" width="0.84" height="20.5" fill="#1c8cff"/>
<rect x="706.35" y="225.0" width="2.3" height="12.5" fill="#1c8cff"/>
<rect x="710.02" y="223.0" width="0.84" height="31.0" fill="#ff0000"/>
<rect x="709.29" y="224.5" width="2.3" height="29.0" fill="#ff0000"/>
<rect x="712.96" y="252.5" width="0.84" height="12.5" fill="#ff0000"/>
<rect x="712.23" y="254.0" width="2.3" height="4.5" fill="#ff0000"/>
<rect x="715.89" y="255.5" width="0.84" height="9.0" fill="#ff0000"/>
<rect x="715.16" y="258.0" width="2.3" height="5.0" fill="#ff0000"/>
<rect x="718.83" y="255.0" width="0.84" height="10.5" fill="#ff0000"/>
<rect x="718.10" y="261.5" width="2.3" height="2.5" fill="#ff0000"/>
<rect x="721.77" y="260.0" width="0.84" height="7.5" fill="#1c8cff"/>
<rect x="721.04" y="262.5" width="2.3" height="2.5" fill="#1c8cff"/>
<rect x="724.71" y="260.0" width="0.84" height="7.0" fill="#1c8cff"/>
<rect x="723.98" y="260.5" width="2.3" height="3.5" fill="#1c8cff"/>
<rect x="727.64" y="259.0" width="0.84" height="4.0" fill="#1c8cff"/>
<rect x="726.91" y="259.5" width="2.3" height="2.0" fill="#1c8cff"/>
<rect x="730.58" y="259.5" width="0.84" height="9.0" fill="#ff0000"/>
<rect x="729.85" y="260.0" width="2.3" height="8.0" fill="#ff0000"/>
<rect x="733.52" y="265.5" width="0.84" height="11.0" fill="#ff0000"/>
<rect x="732.79" y="266.5" width="2.3" height="2.5" fill="#ff0000"/>
<rect x="736.46" y="265.5" width="0.84" height="12.5" fill="#ff0000"/>
<rect x="735.73" y="268.5" width="2.3" height="9.0" fill="#ff0000"/>
<rect x="739.39" y="275.5" width="0.84" height="10.0" fill="#ff0000"/>
<rect x="738.66" y="277.0" width="2.3" height="3.5" fill="#ff0000"/>
<rect x="742.33" y="275.0" width="0.84" height="6.0" fill="#1c8cff"/>
<rect x="741.60" y="276.0" width="2.3" height="4.5" fill="#1c8cff"/>
<rect x="745.27" y="275.5" width="0.84" height="5.0" fill="#ff0000"/>
<rect x="744.54" y="276.5" width="2.3" height="3.5" fill="#ff0000"/>
<rect x="748.21" y="279.0" width="0.84" height="6.5" fill="#1c8cff"/>
<rect x="747.48" y="279.5" width="2.3" height="1.0" fill="#1c8cff"/>
<rect x="751.14" y="275.5" width="0.84" height="9.5" fill="#1c8cff"/>
<rect x="750.41" y="277.0" width="2.3" height="3.0" fill="#1c8cff"/>
<rect x="754.08" y="261.5" width="0.84" height="18.0" fill="#1c8cff"/>
<rect x="753.35" y="277.0" width="2.3" height="1.0" fill="#1c8cff"/>
<rect x="757.02" y="272.0" width="0.84" height="11.5" fill="#ff0000"/>
<rect x="756.29" y="278.0" width="2.3" height="3.0" fill="#ff0000"/>
<rect x="759.96" y="280.5" width="0.84" height="27.5" fill="#ff0000"/>
<rect x="759.23" y="281.0" width="2.3" height="16.5" fill="#ff0000"/>
<rect x="762.89" y="296.5" width="0.84" height="21.5" fill="#ff0000"/>
<rect x="762.16" y="297.0" width="2.3" height="16.0" fill="#ff0000"/>
<rect x="765.83" y="309.5" width="0.84" height="14.0" fill="#ff0000"/>
<rect x="765.10" y="313.0" width="2.3" height="8.0" fill="#ff0000"/>
<rect x="768.77" y="311.0" width="0.84" height="11.5" fill="#1c8cff"/>
<rect x="768.04" y="313.0" width="2.3" height="8.0" fill="#1c8cff"/>
<rect x="771.71" y="306.0" width="0.84" height="10.5" fill="#1c8cff"/>
<rect x="770.98" y="308.5" width="2.3" height="5.0" fill="#1c8cff"/>
</g>
<path d="M3.0 86.2C3.2 86.0 3.0 85.3 4.2 84.9C5.4 84.5 7.4 84.2 10.0 83.9C12.6 83.6 16.7 83.2 20.0 82.8C23.3 82.4 25.0 82.0 30.0 81.6C35.0 81.1 45.0 80.5 50.0 80.1C55.0 79.7 56.7 79.6 60.0 79.3C63.3 79.0 66.7 78.8 70.0 78.5C73.3 78.2 75.8 77.9 80.0 77.5C84.2 77.1 90.8 76.5 95.0 75.9C99.2 75.3 101.2 74.8 105.0 73.9C108.8 73.1 113.9 71.7 118.0 70.8C122.1 69.9 125.8 69.2 129.5 68.5C133.2 67.8 137.4 67.3 140.0 66.9C142.6 66.5 141.7 66.6 145.0 66.2C148.3 65.8 155.8 64.9 160.0 64.5C164.2 64.1 164.2 64.0 170.0 63.6C175.8 63.2 187.7 62.4 195.0 61.9C202.3 61.4 206.9 61.0 214.0 60.4C221.1 59.8 229.3 59.1 237.5 58.4C245.7 57.7 256.6 56.6 263.0 56.1C269.4 55.6 272.3 55.5 276.0 55.3C279.7 55.1 281.8 55.2 285.0 55.1C288.2 55.0 291.2 54.7 295.0 54.7C298.8 54.7 303.0 54.7 308.0 55.1C313.0 55.5 320.0 56.8 325.0 57.4C330.0 58.0 333.0 58.4 338.0 59.0C343.0 59.6 349.7 60.1 355.0 61.0C360.3 61.9 366.1 63.6 370.0 64.5C373.9 65.4 376.0 66.0 378.5 66.5C381.0 67.0 383.1 67.4 385.0 67.8C386.9 68.2 387.5 68.2 390.0 68.8C392.5 69.4 395.0 70.4 400.0 71.5C405.0 72.6 413.3 74.3 420.0 75.5C426.7 76.7 435.2 78.1 440.0 78.9C444.8 79.7 445.7 80.0 449.0 80.5C452.3 81.0 454.8 81.3 460.0 82.1C465.2 82.9 473.3 84.6 480.0 85.5C486.7 86.4 493.3 86.9 500.0 87.5C506.7 88.1 513.3 88.6 520.0 89.1C526.7 89.6 533.3 89.9 540.0 90.5C546.7 91.1 553.3 91.9 560.0 92.5C566.7 93.1 574.7 93.8 580.0 94.2C585.3 94.6 588.7 94.5 592.0 94.8C595.3 95.1 596.3 95.4 600.0 95.9C603.7 96.4 609.3 96.8 614.0 97.6C618.7 98.4 623.7 99.4 628.0 100.6C632.3 101.8 635.0 103.0 640.0 104.5C645.0 106.0 651.3 107.6 658.0 109.4C664.7 111.2 673.0 113.2 680.0 115.3C687.0 117.3 693.3 119.5 700.0 121.7C706.7 123.9 715.3 126.9 720.0 128.3C724.7 129.7 724.7 129.4 728.0 130.3C731.3 131.2 736.0 132.6 740.0 134.0C744.0 135.4 749.3 137.6 752.0 138.6C754.7 139.6 754.7 139.4 756.0 139.9C757.3 140.4 758.3 140.9 760.0 141.6C761.7 142.3 763.9 143.1 766.0 144.0C768.1 144.9 771.5 146.4 772.6 146.9" fill="none" stroke="#ff0000" stroke-width="2.2" stroke-linejoin="round" stroke-linecap="round"/>
<g fill="#c6c6c6">
<rect x="1.03" y="359.3" width="2.938" height="11.2"/>
<rect x="3.97" y="359.3" width="2.938" height="9.7"/>
<rect x="6.91" y="359.3" width="2.938" height="4.2"/>
<rect x="9.84" y="359.3" width="2.938" height="0.7"/>
<rect x="12.78" y="356.0" width="2.938" height="3.3"/>
<rect x="15.72" y="356.0" width="2.938" height="3.3"/>
<rect x="18.66" y="356.0" width="2.938" height="3.3"/>
<rect x="21.59" y="355.0" width="2.938" height="4.3"/>
<rect x="24.53" y="353.5" width="2.938" height="5.8"/>
<rect x="27.47" y="353.0" width="2.938" height="6.3"/>
<rect x="30.41" y="353.5" width="2.938" height="5.8"/>
<rect x="33.34" y="353.5" width="2.938" height="5.8"/>
<rect x="36.28" y="353.5" width="2.938" height="5.8"/>
<rect x="39.22" y="353.0" width="2.938" height="6.3"/>
<rect x="42.16" y="353.0" width="2.938" height="6.3"/>
<rect x="45.09" y="353.0" width="2.938" height="6.3"/>
<rect x="48.03" y="353.0" width="2.938" height="6.3"/>
<rect x="50.97" y="353.0" width="2.938" height="6.3"/>
<rect x="53.91" y="353.0" width="2.938" height="6.3"/>
<rect x="56.84" y="351.0" width="2.938" height="8.3"/>
<rect x="59.78" y="350.0" width="2.938" height="9.3"/>
<rect x="62.72" y="347.0" width="2.938" height="12.3"/>
<rect x="65.66" y="345.5" width="2.938" height="13.8"/>
<rect x="68.59" y="343.0" width="2.938" height="16.3"/>
<rect x="71.53" y="343.0" width="2.938" height="16.3"/>
<rect x="74.47" y="346.0" width="2.938" height="13.3"/>
<rect x="77.41" y="348.5" width="2.938" height="10.8"/>
<rect x="80.34" y="350.5" width="2.938" height="8.8"/>
<rect x="83.28" y="351.5" width="2.938" height="7.8"/>
<rect x="86.22" y="350.5" width="2.938" height="8.8"/>
<rect x="89.16" y="348.5" width="2.938" height="10.8"/>
<rect x="92.09" y="347.0" width="2.938" height="12.3"/>
<rect x="95.03" y="346.0" width="2.938" height="13.3"/>
<rect x="97.97" y="345.5" width="2.938" height="13.8"/>
<rect x="100.91" y="345.0" width="2.938" height="14.3"/>
<rect x="103.84" y="344.0" width="2.938" height="15.3"/>
<rect x="106.78" y="342.5" width="2.938" height="16.8"/>
<rect x="109.72" y="341.5" width="2.938" height="17.8"/>
<rect x="112.66" y="341.5" width="2.938" height="17.8"/>
<rect x="115.59" y="342.5" width="2.938" height="16.8"/>
<rect x="118.53" y="343.0" width="2.938" height="16.3"/>
<rect x="121.47" y="345.0" width="2.938" height="14.3"/>
<rect x="124.41" y="348.0" width="2.938" height="11.3"/>
<rect x="127.34" y="355.0" width="2.938" height="4.3"/>
<rect x="133.22" y="359.3" width="2.938" height="3.2"/>
<rect x="136.16" y="359.3" width="2.938" height="9.2"/>
<rect x="139.09" y="359.3" width="2.938" height="14.2"/>
<rect x="142.03" y="359.3" width="2.938" height="17.2"/>
<rect x="144.97" y="359.3" width="2.938" height="18.7"/>
<rect x="147.91" y="359.3" width="2.938" height="18.7"/>
<rect x="150.84" y="359.3" width="2.938" height="17.7"/>
<rect x="153.78" y="359.3" width="2.938" height="16.2"/>
<rect x="156.72" y="359.3" width="2.938" height="14.7"/>
<rect x="159.66" y="359.3" width="2.938" height="12.7"/>
<rect x="162.59" y="359.3" width="2.938" height="10.7"/>
<rect x="165.53" y="359.3" width="2.938" height="8.2"/>
<rect x="168.47" y="359.3" width="2.938" height="6.7"/>
<rect x="171.41" y="359.3" width="2.938" height="5.2"/>
<rect x="174.34" y="359.3" width="2.938" height="4.7"/>
<rect x="177.28" y="359.3" width="2.938" height="4.7"/>
<rect x="180.22" y="359.3" width="2.938" height="4.7"/>
<rect x="183.16" y="359.3" width="2.938" height="4.7"/>
<rect x="186.09" y="359.3" width="2.938" height="4.2"/>
<rect x="189.03" y="359.3" width="2.938" height="3.7"/>
<rect x="191.97" y="359.3" width="2.938" height="2.2"/>
<rect x="197.84" y="357.0" width="2.938" height="2.3"/>
<rect x="200.78" y="352.0" width="2.938" height="7.3"/>
<rect x="203.72" y="347.5" width="2.938" height="11.8"/>
<rect x="206.66" y="345.5" width="2.938" height="13.8"/>
<rect x="209.59" y="346.0" width="2.938" height="13.3"/>
<rect x="212.53" y="348.5" width="2.938" height="10.8"/>
<rect x="215.47" y="352.0" width="2.938" height="7.3"/>
<rect x="218.41" y="356.0" width="2.938" height="3.3"/>
<rect x="221.34" y="358.5" width="2.938" height="0.8"/>
<rect x="227.22" y="358.5" width="2.938" height="0.8"/>
<rect x="230.16" y="356.5" width="2.938" height="2.8"/>
<rect x="233.09" y="355.0" width="2.938" height="4.3"/>
<rect x="236.03" y="354.5" width="2.938" height="4.8"/>
<rect x="238.97" y="353.0" width="2.938" height="6.3"/>
<rect x="241.91" y="352.5" width="2.938" height="6.8"/>
<rect x="244.84" y="352.5" width="2.938" height="6.8"/>
<rect x="247.78" y="352.5" width="2.938" height="6.8"/>
<rect x="250.72" y="351.5" width="2.938" height="7.8"/>
<rect x="253.66" y="351.0" width="2.938" height="8.3"/>
<rect x="256.59" y="350.0" width="2.938" height="9.3"/>
<rect x="259.53" y="349.0" width="2.938" height="10.3"/>
<rect x="262.47" y="350.0" width="2.938" height="9.3"/>
<rect x="265.41" y="352.0" width="2.938" height="7.3"/>
<rect x="268.34" y="356.0" width="2.938" height="3.3"/>
<rect x="271.28" y="357.5" width="2.938" height="1.8"/>
<rect x="274.22" y="359.3" width="2.938" height="2.2"/>
<rect x="277.16" y="359.3" width="2.938" height="4.2"/>
<rect x="280.09" y="359.3" width="2.938" height="5.7"/>
<rect x="283.03" y="359.3" width="2.938" height="5.7"/>
<rect x="285.97" y="359.3" width="2.938" height="7.2"/>
<rect x="288.91" y="359.3" width="2.938" height="10.2"/>
<rect x="291.84" y="359.3" width="2.938" height="12.2"/>
<rect x="294.78" y="359.3" width="2.938" height="13.7"/>
<rect x="297.72" y="359.3" width="2.938" height="14.7"/>
<rect x="300.66" y="359.3" width="2.938" height="15.7"/>
<rect x="303.59" y="359.3" width="2.938" height="15.7"/>
<rect x="306.53" y="359.3" width="2.938" height="15.2"/>
<rect x="309.47" y="359.3" width="2.938" height="13.7"/>
<rect x="312.41" y="359.3" width="2.938" height="13.7"/>
<rect x="315.34" y="359.3" width="2.938" height="12.7"/>
<rect x="318.28" y="359.3" width="2.938" height="13.2"/>
<rect x="321.22" y="359.3" width="2.938" height="13.7"/>
<rect x="324.16" y="359.3" width="2.938" height="14.2"/>
<rect x="327.09" y="359.3" width="2.938" height="14.2"/>
<rect x="330.03" y="359.3" width="2.938" height="14.7"/>
<rect x="332.97" y="359.3" width="2.938" height="12.7"/>
<rect x="335.91" y="359.3" width="2.938" height="7.7"/>
<rect x="338.84" y="359.3" width="2.938" height="6.2"/>
<rect x="341.78" y="359.3" width="2.938" height="4.7"/>
<rect x="344.72" y="359.3" width="2.938" height="7.2"/>
<rect x="347.66" y="359.3" width="2.938" height="8.7"/>
<rect x="350.59" y="359.3" width="2.938" height="15.2"/>
<rect x="353.53" y="359.3" width="2.938" height="24.0"/>
<rect x="356.47" y="359.3" width="2.938" height="28.7"/>
<rect x="359.41" y="359.3" width="2.938" height="34.7"/>
<rect x="362.34" y="359.3" width="2.938" height="37.7"/>
<rect x="365.28" y="359.3" width="2.938" height="40.7"/>
<rect x="368.22" y="359.3" width="2.938" height="42.7"/>
<rect x="371.16" y="359.3" width="2.938" height="43.2"/>
<rect x="374.09" y="359.3" width="2.938" height="42.7"/>
<rect x="377.03" y="359.3" width="2.938" height="41.7"/>
<rect x="379.97" y="359.3" width="2.938" height="39.7"/>
<rect x="382.91" y="359.3" width="2.938" height="38.7"/>
<rect x="385.84" y="359.3" width="2.938" height="36.7"/>
<rect x="388.78" y="359.3" width="2.938" height="35.2"/>
<rect x="391.72" y="359.3" width="2.938" height="33.7"/>
<rect x="394.66" y="359.3" width="2.938" height="32.2"/>
<rect x="397.59" y="359.3" width="2.938" height="31.2"/>
<rect x="400.53" y="359.3" width="2.938" height="31.7"/>
<rect x="403.47" y="359.3" width="2.938" height="32.2"/>
<rect x="406.41" y="359.3" width="2.938" height="31.2"/>
<rect x="409.34" y="359.3" width="2.938" height="27.7"/>
<rect x="412.28" y="359.3" width="2.938" height="23.7"/>
<rect x="415.22" y="359.3" width="2.938" height="21.2"/>
<rect x="418.16" y="359.3" width="2.938" height="19.2"/>
<rect x="421.09" y="359.3" width="2.938" height="18.7"/>
<rect x="424.03" y="359.3" width="2.938" height="21.2"/>
<rect x="426.97" y="359.3" width="2.938" height="17.7"/>
<rect x="429.91" y="359.3" width="2.938" height="15.2"/>
<rect x="432.84" y="359.3" width="2.938" height="13.7"/>
<rect x="435.78" y="359.3" width="2.938" height="13.2"/>
<rect x="438.72" y="359.3" width="2.938" height="12.7"/>
<rect x="441.66" y="359.3" width="2.938" height="12.2"/>
<rect x="444.59" y="359.3" width="2.938" height="11.7"/>
<rect x="447.53" y="359.3" width="2.938" height="11.7"/>
<rect x="450.47" y="359.3" width="2.938" height="11.2"/>
<rect x="453.41" y="359.3" width="2.938" height="10.7"/>
<rect x="456.34" y="359.3" width="2.938" height="10.2"/>
<rect x="459.28" y="359.3" width="2.938" height="9.2"/>
<rect x="462.22" y="359.3" width="2.938" height="7.7"/>
<rect x="465.16" y="359.3" width="2.938" height="6.2"/>
<rect x="468.09" y="359.3" width="2.938" height="5.2"/>
<rect x="471.03" y="359.3" width="2.938" height="6.2"/>
<rect x="473.97" y="359.3" width="2.938" height="6.2"/>
<rect x="476.91" y="359.3" width="2.938" height="7.2"/>
<rect x="479.84" y="359.3" width="2.938" height="6.2"/>
<rect x="482.78" y="359.3" width="2.938" height="2.2"/>
<rect x="485.72" y="356.0" width="2.938" height="3.3"/>
<rect x="488.66" y="352.5" width="2.938" height="6.8"/>
<rect x="491.59" y="349.0" width="2.938" height="10.3"/>
<rect x="494.53" y="346.5" width="2.938" height="12.8"/>
<rect x="497.47" y="345.0" width="2.938" height="14.3"/>
<rect x="500.41" y="346.5" width="2.938" height="12.8"/>
<rect x="503.34" y="347.5" width="2.938" height="11.8"/>
<rect x="506.28" y="349.0" width="2.938" height="10.3"/>
<rect x="509.22" y="351.0" width="2.938" height="8.3"/>
<rect x="512.16" y="351.5" width="2.938" height="7.8"/>
<rect x="515.09" y="352.5" width="2.938" height="6.8"/>
<rect x="518.03" y="353.0" width="2.938" height="6.3"/>
<rect x="520.97" y="354.0" width="2.938" height="5.3"/>
<rect x="523.91" y="355.0" width="2.938" height="4.3"/>
<rect x="526.84" y="356.0" width="2.938" height="3.3"/>
<rect x="529.78" y="357.0" width="2.938" height="2.3"/>
<rect x="532.72" y="357.5" width="2.938" height="1.8"/>
<rect x="535.66" y="357.5" width="2.938" height="1.8"/>
<rect x="538.59" y="357.5" width="2.938" height="1.8"/>
<rect x="541.53" y="357.8" width="2.938" height="1.5"/>
<rect x="547.41" y="358.7" width="2.938" height="0.6"/>
<rect x="550.34" y="359.3" width="2.938" height="1.7"/>
<rect x="553.28" y="359.3" width="2.938" height="4.2"/>
<rect x="556.22" y="359.3" width="2.938" height="5.7"/>
<rect x="559.16" y="359.3" width="2.938" height="9.2"/>
<rect x="562.09" y="359.3" width="2.938" height="10.2"/>
<rect x="565.03" y="359.3" width="2.938" height="12.7"/>
<rect x="567.97" y="359.3" width="2.938" height="13.7"/>
<rect x="570.91" y="359.3" width="2.938" height="8.7"/>
<rect x="573.84" y="359.3" width="2.938" height="4.2"/>
<rect x="579.72" y="356.0" width="2.938" height="3.3"/>
<rect x="582.66" y="354.0" width="2.938" height="5.3"/>
<rect x="585.59" y="354.5" width="2.938" height="4.8"/>
<rect x="588.53" y="359.3" width="2.938" height="1.2"/>
<rect x="591.47" y="359.3" width="2.938" height="2.2"/>
<rect x="594.41" y="359.3" width="2.938" height="4.7"/>
<rect x="597.34" y="359.3" width="2.938" height="7.2"/>
<rect x="600.28" y="359.3" width="2.938" height="7.7"/>
<rect x="603.22" y="359.3" width="2.938" height="8.2"/>
<rect x="606.16" y="359.3" width="2.938" height="8.7"/>
<rect x="609.09" y="359.3" width="2.938" height="10.2"/>
<rect x="612.03" y="359.3" width="2.938" height="15.2"/>
<rect x="614.97" y="359.3" width="2.938" height="22.2"/>
<rect x="617.91" y="359.3" width="2.938" height="27.2"/>
<rect x="620.84" y="359.3" width="2.938" height="31.2"/>
<rect x="623.78" y="359.3" width="2.938" height="37.2"/>
<rect x="626.72" y="359.3" width="2.938" height="44.2"/>
<rect x="629.66" y="359.3" width="2.938" height="50.2"/>
<rect x="632.59" y="359.3" width="2.938" height="51.7"/>
<rect x="635.53" y="359.3" width="2.938" height="50.2"/>
<rect x="638.47" y="359.3" width="2.938" height="46.7"/>
<rect x="641.41" y="359.3" width="2.938" height="42.7"/>
<rect x="644.34" y="359.3" width="2.938" height="40.7"/>
<rect x="647.28" y="359.3" width="2.938" height="38.7"/>
<rect x="650.22" y="359.3" width="2.938" height="36.7"/>
<rect x="653.16" y="359.3" width="2.938" height="34.7"/>
<rect x="656.09" y="359.3" width="2.938" height="32.7"/>
<rect x="659.03" y="359.3" width="2.938" height="31.2"/>
<rect x="661.97" y="359.3" width="2.938" height="29.7"/>
<rect x="664.91" y="359.3" width="2.938" height="28.2"/>
<rect x="667.84" y="359.3" width="2.938" height="28.2"/>
<rect x="670.78" y="359.3" width="2.938" height="28.7"/>
<rect x="673.72" y="359.3" width="2.938" height="28.2"/>
<rect x="676.66" y="359.3" width="2.938" height="27.7"/>
<rect x="679.59" y="359.3" width="2.938" height="28.7"/>
<rect x="682.53" y="359.3" width="2.938" height="28.2"/>
<rect x="685.47" y="359.3" width="2.938" height="26.7"/>
<rect x="688.41" y="359.3" width="2.938" height="25.2"/>
<rect x="691.34" y="359.3" width="2.938" height="24.7"/>
<rect x="694.28" y="359.3" width="2.938" height="23.2"/>
<rect x="697.22" y="359.3" width="2.938" height="22.2"/>
<rect x="700.16" y="359.3" width="2.938" height="21.2"/>
<rect x="703.09" y="359.3" width="2.938" height="22.2"/>
<rect x="706.03" y="359.3" width="2.938" height="21.7"/>
<rect x="708.97" y="359.3" width="2.938" height="25.2"/>
<rect x="711.91" y="359.3" width="2.938" height="28.2"/>
<rect x="714.84" y="359.3" width="2.938" height="31.2"/>
<rect x="717.78" y="359.3" width="2.938" height="33.2"/>
<rect x="720.72" y="359.3" width="2.938" height="34.7"/>
<rect x="723.66" y="359.3" width="2.938" height="35.2"/>
<rect x="726.59" y="359.3" width="2.938" height="36.2"/>
<rect x="729.53" y="359.3" width="2.938" height="35.2"/>
<rect x="732.47" y="359.3" width="2.938" height="35.7"/>
<rect x="735.41" y="359.3" width="2.938" height="36.7"/>
<rect x="738.34" y="359.3" width="2.938" height="38.2"/>
<rect x="741.28" y="359.3" width="2.938" height="38.2"/>
<rect x="744.22" y="359.3" width="2.938" height="37.7"/>
<rect x="747.16" y="359.3" width="2.938" height="36.7"/>
<rect x="750.09" y="359.3" width="2.938" height="36.2"/>
<rect x="753.03" y="359.3" width="2.938" height="35.2"/>
<rect x="755.97" y="359.3" width="2.938" height="35.2"/>
<rect x="758.91" y="359.3" width="2.938" height="35.7"/>
<rect x="761.84" y="359.3" width="2.938" height="39.2"/>
<rect x="764.78" y="359.3" width="2.938" height="43.2"/>
<rect x="767.72" y="359.3" width="2.938" height="44.7"/>
<rect x="770.66" y="359.3" width="2.938" height="43.7"/>
</g><g fill="#4e4e4e">
<rect x="1.75" y="359.3" width="1.5" height="11.2"/>
<rect x="4.69" y="359.3" width="1.5" height="9.7"/>
<rect x="7.62" y="359.3" width="1.5" height="4.2"/>
<rect x="10.56" y="359.3" width="1.5" height="0.7"/>
<rect x="13.50" y="356.0" width="1.5" height="3.3"/>
<rect x="16.44" y="356.0" width="1.5" height="3.3"/>
<rect x="19.38" y="356.0" width="1.5" height="3.3"/>
<rect x="22.31" y="355.0" width="1.5" height="4.3"/>
<rect x="25.25" y="353.5" width="1.5" height="5.8"/>
<rect x="28.19" y="353.0" width="1.5" height="6.3"/>
<rect x="31.12" y="353.5" width="1.5" height="5.8"/>
<rect x="34.06" y="353.5" width="1.5" height="5.8"/>
<rect x="37.00" y="353.5" width="1.5" height="5.8"/>
<rect x="39.94" y="353.0" width="1.5" height="6.3"/>
<rect x="42.88" y="353.0" width="1.5" height="6.3"/>
<rect x="45.81" y="353.0" width="1.5" height="6.3"/>
<rect x="48.75" y="353.0" width="1.5" height="6.3"/>
<rect x="51.69" y="353.0" width="1.5" height="6.3"/>
<rect x="54.62" y="353.0" width="1.5" height="6.3"/>
<rect x="57.56" y="351.0" width="1.5" height="8.3"/>
<rect x="60.50" y="350.0" width="1.5" height="9.3"/>
<rect x="63.44" y="347.0" width="1.5" height="12.3"/>
<rect x="66.38" y="345.5" width="1.5" height="13.8"/>
<rect x="69.31" y="343.0" width="1.5" height="16.3"/>
<rect x="72.25" y="343.0" width="1.5" height="16.3"/>
<rect x="75.19" y="346.0" width="1.5" height="13.3"/>
<rect x="78.12" y="348.5" width="1.5" height="10.8"/>
<rect x="81.06" y="350.5" width="1.5" height="8.8"/>
<rect x="84.00" y="351.5" width="1.5" height="7.8"/>
<rect x="86.94" y="350.5" width="1.5" height="8.8"/>
<rect x="89.88" y="348.5" width="1.5" height="10.8"/>
<rect x="92.81" y="347.0" width="1.5" height="12.3"/>
<rect x="95.75" y="346.0" width="1.5" height="13.3"/>
<rect x="98.69" y="345.5" width="1.5" height="13.8"/>
<rect x="101.62" y="345.0" width="1.5" height="14.3"/>
<rect x="104.56" y="344.0" width="1.5" height="15.3"/>
<rect x="107.50" y="342.5" width="1.5" height="16.8"/>
<rect x="110.44" y="341.5" width="1.5" height="17.8"/>
<rect x="113.38" y="341.5" width="1.5" height="17.8"/>
<rect x="116.31" y="342.5" width="1.5" height="16.8"/>
<rect x="119.25" y="343.0" width="1.5" height="16.3"/>
<rect x="122.19" y="345.0" width="1.5" height="14.3"/>
<rect x="125.12" y="348.0" width="1.5" height="11.3"/>
<rect x="128.06" y="355.0" width="1.5" height="4.3"/>
<rect x="131.05" y="358.9" width="1.4" height="0.8" fill="#777"/>
<rect x="133.94" y="359.3" width="1.5" height="3.2"/>
<rect x="136.88" y="359.3" width="1.5" height="9.2"/>
<rect x="139.81" y="359.3" width="1.5" height="14.2"/>
<rect x="142.75" y="359.3" width="1.5" height="17.2"/>
<rect x="145.69" y="359.3" width="1.5" height="18.7"/>
<rect x="148.62" y="359.3" width="1.5" height="18.7"/>
<rect x="151.56" y="359.3" width="1.5" height="17.7"/>
<rect x="154.50" y="359.3" width="1.5" height="16.2"/>
<rect x="157.44" y="359.3" width="1.5" height="14.7"/>
<rect x="160.38" y="359.3" width="1.5" height="12.7"/>
<rect x="163.31" y="359.3" width="1.5" height="10.7"/>
<rect x="166.25" y="359.3" width="1.5" height="8.2"/>
<rect x="169.19" y="359.3" width="1.5" height="6.7"/>
<rect x="172.12" y="359.3" width="1.5" height="5.2"/>
<rect x="175.06" y="359.3" width="1.5" height="4.7"/>
<rect x="178.00" y="359.3" width="1.5" height="4.7"/>
<rect x="180.94" y="359.3" width="1.5" height="4.7"/>
<rect x="183.88" y="359.3" width="1.5" height="4.7"/>
<rect x="186.81" y="359.3" width="1.5" height="4.2"/>
<rect x="189.75" y="359.3" width="1.5" height="3.7"/>
<rect x="192.69" y="359.3" width="1.5" height="2.2"/>
<rect x="195.68" y="358.9" width="1.4" height="0.8" fill="#777"/>
<rect x="198.56" y="357.0" width="1.5" height="2.3"/>
<rect x="201.50" y="352.0" width="1.5" height="7.3"/>
<rect x="204.44" y="347.5" width="1.5" height="11.8"/>
<rect x="207.38" y="345.5" width="1.5" height="13.8"/>
<rect x="210.31" y="346.0" width="1.5" height="13.3"/>
<rect x="213.25" y="348.5" width="1.5" height="10.8"/>
<rect x="216.19" y="352.0" width="1.5" height="7.3"/>
<rect x="219.12" y="356.0" width="1.5" height="3.3"/>
<rect x="222.06" y="358.5" width="1.5" height="0.8"/>
<rect x="225.05" y="358.9" width="1.4" height="0.8" fill="#777"/>
<rect x="227.94" y="358.5" width="1.5" height="0.8"/>
<rect x="230.88" y="356.5" width="1.5" height="2.8"/>
<rect x="233.81" y="355.0" width="1.5" height="4.3"/>
<rect x="236.75" y="354.5" width="1.5" height="4.8"/>
<rect x="239.69" y="353.0" width="1.5" height="6.3"/>
<rect x="242.62" y="352.5" width="1.5" height="6.8"/>
<rect x="245.56" y="352.5" width="1.5" height="6.8"/>
<rect x="248.50" y="352.5" width="1.5" height="6.8"/>
<rect x="251.44" y="351.5" width="1.5" height="7.8"/>
<rect x="254.38" y="351.0" width="1.5" height="8.3"/>
<rect x="257.31" y="350.0" width="1.5" height="9.3"/>
<rect x="260.25" y="349.0" width="1.5" height="10.3"/>
<rect x="263.19" y="350.0" width="1.5" height="9.3"/>
<rect x="266.12" y="352.0" width="1.5" height="7.3"/>
<rect x="269.06" y="356.0" width="1.5" height="3.3"/>
<rect x="272.00" y="357.5" width="1.5" height="1.8"/>
<rect x="274.94" y="359.3" width="1.5" height="2.2"/>
<rect x="277.88" y="359.3" width="1.5" height="4.2"/>
<rect x="280.81" y="359.3" width="1.5" height="5.7"/>
<rect x="283.75" y="359.3" width="1.5" height="5.7"/>
<rect x="286.69" y="359.3" width="1.5" height="7.2"/>
<rect x="289.62" y="359.3" width="1.5" height="10.2"/>
<rect x="292.56" y="359.3" width="1.5" height="12.2"/>
<rect x="295.50" y="359.3" width="1.5" height="13.7"/>
<rect x="298.44" y="359.3" width="1.5" height="14.7"/>
<rect x="301.38" y="359.3" width="1.5" height="15.7"/>
<rect x="304.31" y="359.3" width="1.5" height="15.7"/>
<rect x="307.25" y="359.3" width="1.5" height="15.2"/>
<rect x="310.19" y="359.3" width="1.5" height="13.7"/>
<rect x="313.12" y="359.3" width="1.5" height="13.7"/>
<rect x="316.06" y="359.3" width="1.5" height="12.7"/>
<rect x="319.00" y="359.3" width="1.5" height="13.2"/>
<rect x="321.94" y="359.3" width="1.5" height="13.7"/>
<rect x="324.88" y="359.3" width="1.5" height="14.2"/>
<rect x="327.81" y="359.3" width="1.5" height="14.2"/>
<rect x="330.75" y="359.3" width="1.5" height="14.7"/>
<rect x="333.69" y="359.3" width="1.5" height="12.7"/>
<rect x="336.62" y="359.3" width="1.5" height="7.7"/>
<rect x="339.56" y="359.3" width="1.5" height="6.2"/>
<rect x="342.50" y="359.3" width="1.5" height="4.7"/>
<rect x="345.44" y="359.3" width="1.5" height="7.2"/>
<rect x="348.38" y="359.3" width="1.5" height="8.7"/>
<rect x="351.31" y="359.3" width="1.5" height="15.2"/>
<rect x="354.25" y="359.3" width="1.5" height="24.0"/>
<rect x="357.19" y="359.3" width="1.5" height="28.7"/>
<rect x="360.12" y="359.3" width="1.5" height="34.7"/>
<rect x="363.06" y="359.3" width="1.5" height="37.7"/>
<rect x="366.00" y="359.3" width="1.5" height="40.7"/>
<rect x="368.94" y="359.3" width="1.5" height="42.7"/>
<rect x="371.88" y="359.3" width="1.5" height="43.2"/>
<rect x="374.81" y="359.3" width="1.5" height="42.7"/>
<rect x="377.75" y="359.3" width="1.5" height="41.7"/>
<rect x="380.69" y="359.3" width="1.5" height="39.7"/>
<rect x="383.62" y="359.3" width="1.5" height="38.7"/>
<rect x="386.56" y="359.3" width="1.5" height="36.7"/>
<rect x="389.50" y="359.3" width="1.5" height="35.2"/>
<rect x="392.44" y="359.3" width="1.5" height="33.7"/>
<rect x="395.38" y="359.3" width="1.5" height="32.2"/>
<rect x="398.31" y="359.3" width="1.5" height="31.2"/>
<rect x="401.25" y="359.3" width="1.5" height="31.7"/>
<rect x="404.19" y="359.3" width="1.5" height="32.2"/>
<rect x="407.12" y="359.3" width="1.5" height="31.2"/>
<rect x="410.06" y="359.3" width="1.5" height="27.7"/>
<rect x="413.00" y="359.3" width="1.5" height="23.7"/>
<rect x="415.94" y="359.3" width="1.5" height="21.2"/>
<rect x="418.88" y="359.3" width="1.5" height="19.2"/>
<rect x="421.81" y="359.3" width="1.5" height="18.7"/>
<rect x="424.75" y="359.3" width="1.5" height="21.2"/>
<rect x="427.69" y="359.3" width="1.5" height="17.7"/>
<rect x="430.62" y="359.3" width="1.5" height="15.2"/>
<rect x="433.56" y="359.3" width="1.5" height="13.7"/>
<rect x="436.50" y="359.3" width="1.5" height="13.2"/>
<rect x="439.44" y="359.3" width="1.5" height="12.7"/>
<rect x="442.38" y="359.3" width="1.5" height="12.2"/>
<rect x="445.31" y="359.3" width="1.5" height="11.7"/>
<rect x="448.25" y="359.3" width="1.5" height="11.7"/>
<rect x="451.19" y="359.3" width="1.5" height="11.2"/>
<rect x="454.12" y="359.3" width="1.5" height="10.7"/>
<rect x="457.06" y="359.3" width="1.5" height="10.2"/>
<rect x="460.00" y="359.3" width="1.5" height="9.2"/>
<rect x="462.94" y="359.3" width="1.5" height="7.7"/>
<rect x="465.88" y="359.3" width="1.5" height="6.2"/>
<rect x="468.81" y="359.3" width="1.5" height="5.2"/>
<rect x="471.75" y="359.3" width="1.5" height="6.2"/>
<rect x="474.69" y="359.3" width="1.5" height="6.2"/>
<rect x="477.62" y="359.3" width="1.5" height="7.2"/>
<rect x="480.56" y="359.3" width="1.5" height="6.2"/>
<rect x="483.50" y="359.3" width="1.5" height="2.2"/>
<rect x="486.44" y="356.0" width="1.5" height="3.3"/>
<rect x="489.38" y="352.5" width="1.5" height="6.8"/>
<rect x="492.31" y="349.0" width="1.5" height="10.3"/>
<rect x="495.25" y="346.5" width="1.5" height="12.8"/>
<rect x="498.19" y="345.0" width="1.5" height="14.3"/>
<rect x="501.12" y="346.5" width="1.5" height="12.8"/>
<rect x="504.06" y="347.5" width="1.5" height="11.8"/>
<rect x="507.00" y="349.0" width="1.5" height="10.3"/>
<rect x="509.94" y="351.0" width="1.5" height="8.3"/>
<rect x="512.88" y="351.5" width="1.5" height="7.8"/>
<rect x="515.81" y="352.5" width="1.5" height="6.8"/>
<rect x="518.75" y="353.0" width="1.5" height="6.3"/>
<rect x="521.69" y="354.0" width="1.5" height="5.3"/>
<rect x="524.62" y="355.0" width="1.5" height="4.3"/>
<rect x="527.56" y="356.0" width="1.5" height="3.3"/>
<rect x="530.50" y="357.0" width="1.5" height="2.3"/>
<rect x="533.44" y="357.5" width="1.5" height="1.8"/>
<rect x="536.38" y="357.5" width="1.5" height="1.8"/>
<rect x="539.31" y="357.5" width="1.5" height="1.8"/>
<rect x="542.25" y="357.8" width="1.5" height="1.5"/>
<rect x="545.24" y="358.9" width="1.4" height="0.8" fill="#777"/>
<rect x="548.12" y="358.7" width="1.5" height="0.6"/>
<rect x="551.06" y="359.3" width="1.5" height="1.7"/>
<rect x="554.00" y="359.3" width="1.5" height="4.2"/>
<rect x="556.94" y="359.3" width="1.5" height="5.7"/>
<rect x="559.88" y="359.3" width="1.5" height="9.2"/>
<rect x="562.81" y="359.3" width="1.5" height="10.2"/>
<rect x="565.75" y="359.3" width="1.5" height="12.7"/>
<rect x="568.69" y="359.3" width="1.5" height="13.7"/>
<rect x="571.62" y="359.3" width="1.5" height="8.7"/>
<rect x="574.56" y="359.3" width="1.5" height="4.2"/>
<rect x="577.55" y="358.9" width="1.4" height="0.8" fill="#777"/>
<rect x="580.44" y="356.0" width="1.5" height="3.3"/>
<rect x="583.38" y="354.0" width="1.5" height="5.3"/>
<rect x="586.31" y="354.5" width="1.5" height="4.8"/>
<rect x="589.25" y="359.3" width="1.5" height="1.2"/>
<rect x="592.19" y="359.3" width="1.5" height="2.2"/>
<rect x="595.12" y="359.3" width="1.5" height="4.7"/>
<rect x="598.06" y="359.3" width="1.5" height="7.2"/>
<rect x="601.00" y="359.3" width="1.5" height="7.7"/>
<rect x="603.94" y="359.3" width="1.5" height="8.2"/>
<rect x="606.88" y="359.3" width="1.5" height="8.7"/>
<rect x="609.81" y="359.3" width="1.5" height="10.2"/>
<rect x="612.75" y="359.3" width="1.5" height="15.2"/>
<rect x="615.69" y="359.3" width="1.5" height="22.2"/>
<rect x="618.62" y="359.3" width="1.5" height="27.2"/>
<rect x="621.56" y="359.3" width="1.5" height="31.2"/>
<rect x="624.50" y="359.3" width="1.5" height="37.2"/>
<rect x="627.44" y="359.3" width="1.5" height="44.2"/>
<rect x="630.38" y="359.3" width="1.5" height="50.2"/>
<rect x="633.31" y="359.3" width="1.5" height="51.7"/>
<rect x="636.25" y="359.3" width="1.5" height="50.2"/>
<rect x="639.19" y="359.3" width="1.5" height="46.7"/>
<rect x="642.12" y="359.3" width="1.5" height="42.7"/>
<rect x="645.06" y="359.3" width="1.5" height="40.7"/>
<rect x="648.00" y="359.3" width="1.5" height="38.7"/>
<rect x="650.94" y="359.3" width="1.5" height="36.7"/>
<rect x="653.88" y="359.3" width="1.5" height="34.7"/>
<rect x="656.81" y="359.3" width="1.5" height="32.7"/>
<rect x="659.75" y="359.3" width="1.5" height="31.2"/>
<rect x="662.69" y="359.3" width="1.5" height="29.7"/>
<rect x="665.62" y="359.3" width="1.5" height="28.2"/>
<rect x="668.56" y="359.3" width="1.5" height="28.2"/>
<rect x="671.50" y="359.3" width="1.5" height="28.7"/>
<rect x="674.44" y="359.3" width="1.5" height="28.2"/>
<rect x="677.38" y="359.3" width="1.5" height="27.7"/>
<rect x="680.31" y="359.3" width="1.5" height="28.7"/>
<rect x="683.25" y="359.3" width="1.5" height="28.2"/>
<rect x="686.19" y="359.3" width="1.5" height="26.7"/>
<rect x="689.12" y="359.3" width="1.5" height="25.2"/>
<rect x="692.06" y="359.3" width="1.5" height="24.7"/>
<rect x="695.00" y="359.3" width="1.5" height="23.2"/>
<rect x="697.94" y="359.3" width="1.5" height="22.2"/>
<rect x="700.88" y="359.3" width="1.5" height="21.2"/>
<rect x="703.81" y="359.3" width="1.5" height="22.2"/>
<rect x="706.75" y="359.3" width="1.5" height="21.7"/>
<rect x="709.69" y="359.3" width="1.5" height="25.2"/>
<rect x="712.62" y="359.3" width="1.5" height="28.2"/>
<rect x="715.56" y="359.3" width="1.5" height="31.2"/>
<rect x="718.50" y="359.3" width="1.5" height="33.2"/>
<rect x="721.44" y="359.3" width="1.5" height="34.7"/>
<rect x="724.38" y="359.3" width="1.5" height="35.2"/>
<rect x="727.31" y="359.3" width="1.5" height="36.2"/>
<rect x="730.25" y="359.3" width="1.5" height="35.2"/>
<rect x="733.19" y="359.3" width="1.5" height="35.7"/>
<rect x="736.12" y="359.3" width="1.5" height="36.7"/>
<rect x="739.06" y="359.3" width="1.5" height="38.2"/>
<rect x="742.00" y="359.3" width="1.5" height="38.2"/>
<rect x="744.94" y="359.3" width="1.5" height="37.7"/>
<rect x="747.88" y="359.3" width="1.5" height="36.7"/>
<rect x="750.81" y="359.3" width="1.5" height="36.2"/>
<rect x="753.75" y="359.3" width="1.5" height="35.2"/>
<rect x="756.69" y="359.3" width="1.5" height="35.2"/>
<rect x="759.62" y="359.3" width="1.5" height="35.7"/>
<rect x="762.56" y="359.3" width="1.5" height="39.2"/>
<rect x="765.50" y="359.3" width="1.5" height="43.2"/>
<rect x="768.44" y="359.3" width="1.5" height="44.7"/>
<rect x="771.38" y="359.3" width="1.5" height="43.7"/>
</g>
<path d="M2.0 371.0C4.2 369.8 10.5 366.2 15.0 364.0C19.5 361.8 26.0 359.0 29.0 357.5C32.0 356.0 30.3 355.6 33.0 355.0C35.7 354.4 40.8 354.3 45.0 354.0C49.2 353.7 54.7 353.5 58.0 353.0C61.3 352.5 62.2 352.0 65.0 351.0C67.8 350.0 72.5 347.8 75.0 347.0C77.5 346.2 77.5 346.0 80.0 346.0C82.5 346.0 86.7 346.6 90.0 346.8C93.3 347.0 97.5 347.3 100.0 347.3C102.5 347.3 102.5 347.6 105.0 347.0C107.5 346.4 112.3 344.1 115.0 343.5C117.7 342.9 119.1 343.4 121.0 343.4C122.9 343.4 125.0 343.3 126.5 343.6C128.0 343.9 128.8 344.5 130.0 345.2C131.2 345.9 132.7 346.7 134.0 347.8C135.3 348.9 136.7 350.3 138.0 351.8C139.3 353.3 140.8 355.1 142.0 356.6C143.2 358.1 143.5 358.9 145.0 361.0C146.5 363.1 149.0 366.9 151.0 369.0C153.0 371.1 155.3 372.5 157.0 373.5C158.7 374.5 159.8 374.6 161.0 375.0C162.2 375.4 163.0 375.7 164.0 375.6C165.0 375.6 166.0 375.1 167.0 374.7C168.0 374.3 167.8 374.0 170.0 373.0C172.2 372.0 177.2 369.7 180.0 368.5C182.8 367.3 184.5 366.8 187.0 366.0C189.5 365.2 192.8 364.2 195.0 363.5C197.2 362.8 197.8 363.1 200.0 362.0C202.2 360.9 205.3 358.7 208.0 357.0C210.7 355.3 214.0 353.0 216.0 352.0C218.0 351.0 218.5 351.1 220.0 351.0C221.5 350.9 222.7 350.9 225.0 351.5C227.3 352.1 231.2 353.7 234.0 354.5C236.8 355.3 239.3 356.6 242.0 356.5C244.7 356.4 247.0 354.8 250.0 354.0C253.0 353.2 256.7 352.0 260.0 351.5C263.3 351.0 267.0 350.8 270.0 351.2C273.0 351.6 275.5 352.9 278.0 354.0C280.5 355.1 283.0 356.7 285.0 358.0C287.0 359.3 288.3 360.7 290.0 362.0C291.7 363.3 293.0 364.8 295.0 366.0C297.0 367.2 299.8 368.6 302.0 369.5C304.2 370.4 306.0 370.8 308.0 371.5C310.0 372.2 311.2 373.2 314.0 373.5C316.8 373.8 322.2 373.4 325.0 373.5C327.8 373.6 329.0 374.2 331.0 374.0C333.0 373.8 334.7 372.8 337.0 372.0C339.3 371.2 342.8 370.0 345.0 369.5C347.2 369.0 348.3 368.8 350.0 369.0C351.7 369.2 353.3 369.7 355.0 370.5C356.7 371.3 358.3 372.4 360.0 374.0C361.7 375.6 363.3 377.8 365.0 380.0C366.7 382.2 368.3 384.8 370.0 387.0C371.7 389.2 373.3 391.3 375.0 393.0C376.7 394.7 378.5 396.0 380.0 397.0C381.5 398.0 382.3 398.7 384.0 399.0C385.7 399.3 387.3 399.6 390.0 399.0C392.7 398.4 396.7 396.7 400.0 395.5C403.3 394.3 406.7 393.5 410.0 392.0C413.3 390.5 417.0 388.0 420.0 386.5C423.0 385.0 425.5 384.3 428.0 383.0C430.5 381.7 432.7 379.8 435.0 378.5C437.3 377.2 439.7 376.0 442.0 375.0C444.3 374.0 446.0 373.3 449.0 372.5C452.0 371.7 456.5 370.8 460.0 370.0C463.5 369.2 466.7 368.6 470.0 368.0C473.3 367.4 477.2 367.2 480.0 366.5C482.8 365.8 484.8 365.0 487.0 364.0C489.2 363.0 491.0 361.8 493.0 360.5C495.0 359.2 497.0 358.0 499.0 356.5C501.0 355.0 503.3 352.7 505.0 351.5C506.7 350.3 507.5 350.0 509.0 349.5C510.5 349.0 512.5 348.6 514.0 348.5C515.5 348.4 516.2 348.4 518.0 348.8C519.8 349.2 522.2 350.1 525.0 351.0C527.8 351.9 532.5 353.8 535.0 354.5C537.5 355.2 537.5 355.0 540.0 355.5C542.5 356.0 546.7 356.8 550.0 357.5C553.3 358.2 557.2 358.9 560.0 360.0C562.8 361.1 565.0 362.9 567.0 364.0C569.0 365.1 570.2 366.0 572.0 366.5C573.8 367.0 576.2 367.2 578.0 367.0C579.8 366.8 581.3 366.2 583.0 365.5C584.7 364.8 586.2 363.8 588.0 363.0C589.8 362.2 591.8 360.9 594.0 360.5C596.2 360.1 598.7 360.1 601.0 360.5C603.3 360.9 605.7 361.8 608.0 363.0C610.3 364.2 612.7 366.2 615.0 368.0C617.3 369.8 620.2 372.2 622.0 374.0C623.8 375.8 624.3 376.7 626.0 379.0C627.7 381.3 630.0 385.1 632.0 388.0C634.0 390.9 636.2 394.2 638.0 396.5C639.8 398.8 641.3 400.2 643.0 401.5C644.7 402.8 646.3 403.6 648.0 404.0C649.7 404.4 651.3 404.4 653.0 403.8C654.7 403.2 656.2 401.9 658.0 400.5C659.8 399.1 662.0 396.9 664.0 395.5C666.0 394.1 668.0 393.0 670.0 392.0C672.0 391.0 673.5 390.3 676.0 389.5C678.5 388.7 682.3 387.6 685.0 387.0C687.7 386.4 689.5 386.2 692.0 385.8C694.5 385.4 697.0 385.1 700.0 384.5C703.0 383.9 707.0 382.1 710.0 382.0C713.0 381.9 715.3 382.9 718.0 384.0C720.7 385.1 723.2 387.0 726.0 388.5C728.8 390.0 731.8 391.8 735.0 393.0C738.2 394.2 741.7 395.6 745.0 396.0C748.3 396.4 752.5 395.7 755.0 395.6C757.5 395.5 758.3 395.4 760.0 395.5C761.7 395.6 763.0 395.5 765.0 395.9C767.0 396.3 770.7 397.6 771.8 398.0" fill="none" stroke="#ff0000" stroke-width="0.85"/>
<rect x="1.1" y="1.2" width="1.15" height="414.2" fill="#5a5a5a"/>
<rect x="1.1" y="1.2" width="970.6" height="1.05" fill="#5a5a5a"/>
<rect x="970.0" y="1.2" width="1.8" height="414.2" fill="#808080"/>
<rect x="1.1" y="334.9" width="970.7" height="1.1" fill="#c4c4c4"/>
<rect x="1.1" y="333.65" width="970.7" height="1.4" fill="#525252"/>
<rect x="1.1" y="335.9" width="970.7" height="1.4" fill="#525252"/>
<rect x="1.1" y="413.8" width="970.7" height="1.6" fill="#5a5a5a"/>
<rect x="1.95" y="415" width="1.1" height="2.5" fill="#222"/>
<text x="2.05" y="423.80" font-size="7.3" fill="#0c0c0c" stroke="#0c0c0c" stroke-width="0.12" textLength="34.0" lengthAdjust="spacingAndGlyphs">9 Feb 2016</text>
<rect x="48.95" y="415" width="1.1" height="2.5" fill="#222"/>
<text x="49.05" y="423.80" font-size="7.3" fill="#0c0c0c" stroke="#0c0c0c" stroke-width="0.12" textLength="40.0" lengthAdjust="spacingAndGlyphs">10 Feb 07:00</text>
<rect x="95.95" y="415" width="1.1" height="2.5" fill="#222"/>
<text x="96.05" y="423.80" font-size="7.3" fill="#0c0c0c" stroke="#0c0c0c" stroke-width="0.12" textLength="40.0" lengthAdjust="spacingAndGlyphs">10 Feb 23:00</text>
<rect x="142.95" y="415" width="1.1" height="2.5" fill="#222"/>
<text x="143.05" y="423.80" font-size="7.3" fill="#0c0c0c" stroke="#0c0c0c" stroke-width="0.12" textLength="40.0" lengthAdjust="spacingAndGlyphs">11 Feb 15:00</text>
<rect x="189.95" y="415" width="1.1" height="2.5" fill="#222"/>
<text x="190.05" y="423.80" font-size="7.3" fill="#0c0c0c" stroke="#0c0c0c" stroke-width="0.12" textLength="40.0" lengthAdjust="spacingAndGlyphs">12 Feb 07:00</text>
<rect x="236.95" y="415" width="1.1" height="2.5" fill="#222"/>
<text x="237.05" y="423.80" font-size="7.3" fill="#0c0c0c" stroke="#0c0c0c" stroke-width="0.12" textLength="40.0" lengthAdjust="spacingAndGlyphs">15 Feb 00:00</text>
<rect x="283.95" y="415" width="1.1" height="2.5" fill="#222"/>
<text x="284.05" y="423.80" font-size="7.3" fill="#0c0c0c" stroke="#0c0c0c" stroke-width="0.12" textLength="40.0" lengthAdjust="spacingAndGlyphs">15 Feb 16:00</text>
<rect x="330.95" y="415" width="1.1" height="2.5" fill="#222"/>
<text x="331.05" y="423.80" font-size="7.3" fill="#0c0c0c" stroke="#0c0c0c" stroke-width="0.12" textLength="40.0" lengthAdjust="spacingAndGlyphs">16 Feb 08:00</text>
<rect x="377.95" y="415" width="1.1" height="2.5" fill="#222"/>
<text x="378.05" y="423.80" font-size="7.3" fill="#0c0c0c" stroke="#0c0c0c" stroke-width="0.12" textLength="40.0" lengthAdjust="spacingAndGlyphs">17 Feb 00:00</text>
<rect x="424.95" y="415" width="1.1" height="2.5" fill="#222"/>
<text x="425.05" y="423.80" font-size="7.3" fill="#0c0c0c" stroke="#0c0c0c" stroke-width="0.12" textLength="40.0" lengthAdjust="spacingAndGlyphs">17 Feb 16:00</text>
<rect x="471.95" y="415" width="1.1" height="2.5" fill="#222"/>
<text x="472.05" y="423.80" font-size="7.3" fill="#0c0c0c" stroke="#0c0c0c" stroke-width="0.12" textLength="40.0" lengthAdjust="spacingAndGlyphs">18 Feb 08:00</text>
<rect x="518.95" y="415" width="1.1" height="2.5" fill="#222"/>
<text x="519.05" y="423.80" font-size="7.3" fill="#0c0c0c" stroke="#0c0c0c" stroke-width="0.12" textLength="40.0" lengthAdjust="spacingAndGlyphs">19 Feb 00:00</text>
<rect x="565.95" y="415" width="1.1" height="2.5" fill="#222"/>
<text x="566.05" y="423.80" font-size="7.3" fill="#0c0c0c" stroke="#0c0c0c" stroke-width="0.12" textLength="40.0" lengthAdjust="spacingAndGlyphs">19 Feb 16:00</text>
<rect x="612.95" y="415" width="1.1" height="2.5" fill="#222"/>
<text x="613.05" y="423.80" font-size="7.3" fill="#0c0c0c" stroke="#0c0c0c" stroke-width="0.12" textLength="40.0" lengthAdjust="spacingAndGlyphs">22 Feb 09:00</text>
<rect x="659.95" y="415" width="1.1" height="2.5" fill="#222"/>
<text x="660.05" y="423.80" font-size="7.3" fill="#0c0c0c" stroke="#0c0c0c" stroke-width="0.12" textLength="40.0" lengthAdjust="spacingAndGlyphs">23 Feb 01:00</text>
<rect x="706.95" y="415" width="1.1" height="2.5" fill="#222"/>
<text x="707.05" y="423.80" font-size="7.3" fill="#0c0c0c" stroke="#0c0c0c" stroke-width="0.12" textLength="40.0" lengthAdjust="spacingAndGlyphs">23 Feb 17:00</text>
<rect x="753.95" y="415" width="1.1" height="2.5" fill="#222"/>
<text x="754.05" y="423.80" font-size="7.3" fill="#0c0c0c" stroke="#0c0c0c" stroke-width="0.12" textLength="40.0" lengthAdjust="spacingAndGlyphs">24 Feb 09:00</text>
<path d="M971.7 25.55L973.5 26.40L971.7 27.25Z" fill="#111"/>
<text x="975.40" y="29.25" font-size="7.8" fill="#0c0c0c" stroke="#0c0c0c" stroke-width="0.1" textLength="20.1" lengthAdjust="spacingAndGlyphs">1.4565</text>
<path d="M971.7 51.45L973.5 52.30L971.7 53.15Z" fill="#111"/>
<text x="975.40" y="55.15" font-size="7.8" fill="#0c0c0c" stroke="#0c0c0c" stroke-width="0.1" textLength="20.1" lengthAdjust="spacingAndGlyphs">1.4505</text>
<path d="M971.7 77.35L973.5 78.20L971.7 79.05Z" fill="#111"/>
<text x="975.40" y="81.05" font-size="7.8" fill="#0c0c0c" stroke="#0c0c0c" stroke-width="0.1" textLength="20.1" lengthAdjust="spacingAndGlyphs">1.4445</text>
<path d="M971.7 103.15L973.5 104.00L971.7 104.85Z" fill="#111"/>
<text x="975.40" y="106.85" font-size="7.8" fill="#0c0c0c" stroke="#0c0c0c" stroke-width="0.1" textLength="20.1" lengthAdjust="spacingAndGlyphs">1.4385</text>
<path d="M971.7 128.45L973.5 129.30L971.7 130.15Z" fill="#111"/>
<text x="975.40" y="132.15" font-size="7.8" fill="#0c0c0c" stroke="#0c0c0c" stroke-width="0.1" textLength="20.1" lengthAdjust="spacingAndGlyphs">1.4325</text>
<path d="M971.7 154.45L973.5 155.30L971.7 156.15Z" fill="#111"/>
<text x="975.40" y="158.15" font-size="7.8" fill="#0c0c0c" stroke="#0c0c0c" stroke-width="0.1" textLength="20.1" lengthAdjust="spacingAndGlyphs">1.4265</text>
<path d="M971.7 178.65L973.5 179.50L971.7 180.35Z" fill="#111"/>
<text x="975.40" y="182.35" font-size="7.8" fill="#0c0c0c" stroke="#0c0c0c" stroke-width="0.1" textLength="20.1" lengthAdjust="spacingAndGlyphs">1.4210</text>
<path d="M971.7 204.55L973.5 205.40L971.7 206.25Z" fill="#111"/>
<text x="975.40" y="208.25" font-size="7.8" fill="#0c0c0c" stroke="#0c0c0c" stroke-width="0.1" textLength="20.1" lengthAdjust="spacingAndGlyphs">1.4150</text>
<path d="M971.7 230.35L973.5 231.20L971.7 232.05Z" fill="#111"/>
<text x="975.40" y="234.05" font-size="7.8" fill="#0c0c0c" stroke="#0c0c0c" stroke-width="0.1" textLength="20.1" lengthAdjust="spacingAndGlyphs">1.4090</text>
<path d="M971.7 281.55L973.5 282.40L971.7 283.25Z" fill="#111"/>
<text x="975.40" y="285.25" font-size="7.8" fill="#0c0c0c" stroke="#0c0c0c" stroke-width="0.1" textLength="20.1" lengthAdjust="spacingAndGlyphs">1.3970</text>
<path d="M971.7 331.65L973.5 332.50L971.7 333.35Z" fill="#111"/>
<text x="975.40" y="335.35" font-size="7.8" fill="#0c0c0c" stroke="#0c0c0c" stroke-width="0.1" textLength="20.1" lengthAdjust="spacingAndGlyphs">1.3855</text>
<rect x="972.0" y="10.75" width="26.7" height="8.1" fill="#ff0000"/>
<text x="975.40" y="17.90" font-size="7.8" fill="#fff" stroke="#fff" stroke-width="0.2" textLength="20.2" lengthAdjust="spacingAndGlyphs">1.4590</text>
<rect x="972.0" y="42.55" width="26.7" height="8.1" fill="#ff0000"/>
<text x="975.40" y="49.70" font-size="7.8" fill="#fff" stroke="#fff" stroke-width="0.2" textLength="20.2" lengthAdjust="spacingAndGlyphs">1.4516</text>
<rect x="972.0" y="95.50" width="26.7" height="8.1" fill="#ff0000"/>
<text x="975.40" y="102.65" font-size="7.8" fill="#fff" stroke="#fff" stroke-width="0.2" textLength="20.2" lengthAdjust="spacingAndGlyphs">1.4393</text>
<rect x="972.0" y="132.75" width="26.7" height="8.1" fill="#ff0000"/>
<text x="975.40" y="139.90" font-size="7.8" fill="#fff" stroke="#fff" stroke-width="0.2" textLength="20.2" lengthAdjust="spacingAndGlyphs">1.4306</text>
<rect x="972.0" y="199.00" width="26.7" height="8.1" fill="#ff0000"/>
<text x="975.40" y="206.15" font-size="7.8" fill="#fff" stroke="#fff" stroke-width="0.2" textLength="20.2" lengthAdjust="spacingAndGlyphs">1.4153</text>
<rect x="972.0" y="253.55" width="26.7" height="8.1" fill="#ff0000"/>
<text x="975.40" y="260.70" font-size="7.8" fill="#fff" stroke="#fff" stroke-width="0.2" textLength="20.2" lengthAdjust="spacingAndGlyphs">1.4027</text>
<rect x="972.0" y="305.0" width="26.7" height="7.8" fill="#000"/>
<text x="975.40" y="311.90" font-size="7.8" fill="#fff" stroke="#fff" stroke-width="0.2" textLength="20.2" lengthAdjust="spacingAndGlyphs">1.3909</text>
<text x="973.60" y="344.30" font-size="7.8" fill="#0c0c0c" stroke="#0c0c0c" stroke-width="0.1" textLength="20.6" lengthAdjust="spacingAndGlyphs">0.0024</text>
<path d="M971.7 358.65L973.5 359.50L971.7 360.35Z" fill="#111"/>
<text x="973.60" y="362.70" font-size="7.8" fill="#0c0c0c" stroke="#0c0c0c" stroke-width="0.1" textLength="13.3" lengthAdjust="spacingAndGlyphs">0.00</text>
<text x="973.60" y="412.90" font-size="7.8" fill="#0c0c0c" stroke="#0c0c0c" stroke-width="0.1" textLength="22.6" lengthAdjust="spacingAndGlyphs">-0.0059</text>
<path d="M4.5 6.5H9.6L7.05 9.3Z" fill="#000"/>
<text x="13.50" y="10.35" font-size="7.3" fill="#0c0c0c" stroke="#0c0c0c" stroke-width="0.12" textLength="39" lengthAdjust="spacingAndGlyphs">GBPUSD,H1</text>
<text x="57.60" y="10.35" font-size="7.3" fill="#0c0c0c" stroke="#0c0c0c" stroke-width="0.12" textLength="20.4" lengthAdjust="spacingAndGlyphs">1.3898</text>
<text x="80.00" y="10.35" font-size="7.3" fill="#0c0c0c" stroke="#0c0c0c" stroke-width="0.12" textLength="20.4" lengthAdjust="spacingAndGlyphs">1.3915</text>
<text x="103.00" y="10.35" font-size="7.3" fill="#0c0c0c" stroke="#0c0c0c" stroke-width="0.12" textLength="20.4" lengthAdjust="spacingAndGlyphs">1.3892</text>
<text x="125.60" y="10.35" font-size="7.3" fill="#0c0c0c" stroke="#0c0c0c" stroke-width="0.12" textLength="20.4" lengthAdjust="spacingAndGlyphs">1.3909</text>
<text x="5.60" y="345.00" font-size="7.3" fill="#0c0c0c" stroke="#0c0c0c" stroke-width="0.12" textLength="46.9" lengthAdjust="spacingAndGlyphs">MACD(12,26,9)</text>
<text x="56.20" y="345.00" font-size="7.3" fill="#0c0c0c" stroke="#0c0c0c" stroke-width="0.12" textLength="26" lengthAdjust="spacingAndGlyphs">-0.00471</text>
<text x="85.60" y="345.00" font-size="7.3" fill="#0c0c0c" stroke="#0c0c0c" stroke-width="0.12" textLength="26" lengthAdjust="spacingAndGlyphs">-0.00414</text>
</svg></body></html>
